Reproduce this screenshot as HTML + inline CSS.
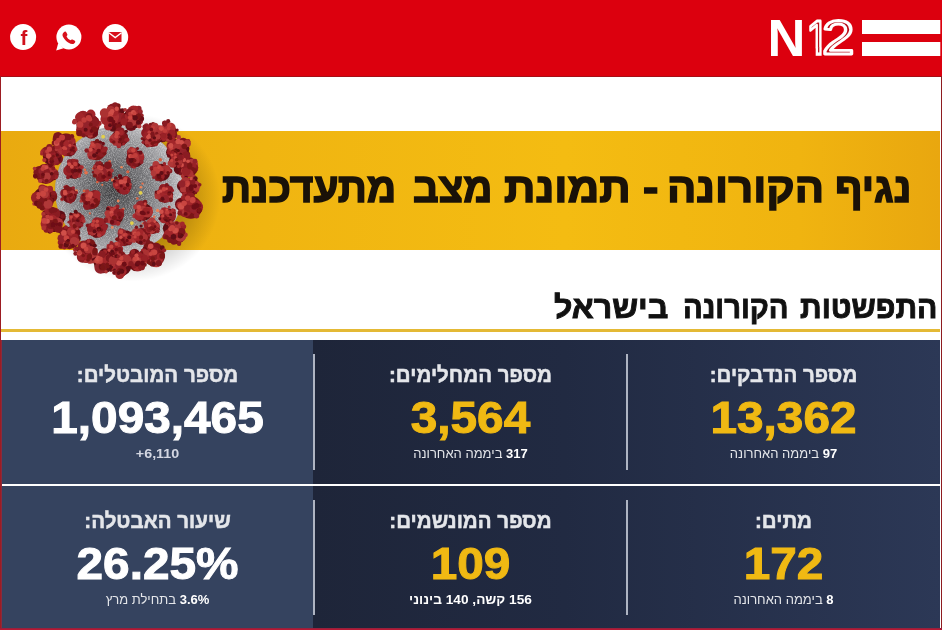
<!DOCTYPE html>
<html lang="he">
<head>
<meta charset="utf-8">
<title>נגיף הקורונה - תמונת מצב מתעדכנת</title>
<style>
html,body{margin:0;padding:0;}
body{width:942px;height:630px;overflow:hidden;background:#fff;position:relative;font-family:"Liberation Sans","DejaVu Sans",sans-serif;}
#frame{position:absolute;left:0;top:0;width:942px;height:630px;overflow:hidden;}
.abs{position:absolute;}
#hdr{left:0;top:0;width:942px;height:76px;background:#dc000e;border-bottom:1px solid #a60d16;}
#lb{left:0;top:76px;width:1px;height:554px;background:#9c1c22;}
#lb2{left:1px;top:340px;width:1px;height:290px;background:#8a2a3c;}
#rb{left:941px;top:76px;width:1px;height:554px;background:#8e1c20;}
#bb{left:0;top:628px;width:942px;height:2px;background:linear-gradient(180deg,#8a2440,#c41430);}
#band{left:1px;top:131px;width:939px;height:119px;background:linear-gradient(90deg,#e9aa10 0%,#f0b511 28%,#f4bc12 60%,#f0b410 85%,#e9a70f 100%);}
#title{left:0;top:160px;width:942px;height:56px;direction:rtl;font-weight:bold;font-size:42px;line-height:56px;color:#1a1208;-webkit-text-stroke:1.5px #1a1208;white-space:nowrap;}
#title span{position:absolute;top:0;display:block;white-space:nowrap;transform-origin:left center;}
/*TW*/
#w1{left:835.40px;transform:scaleX(0.9735);}
#w2{left:667.29px;transform:scaleX(1.0347);}
#w3{left:642.79px;transform:scaleX(1.0978);}
#w4{left:504.40px;transform:scaleX(1.0426);}
#w5{left:413.41px;transform:scaleX(0.9564);}
#w6{left:222.40px;transform:scaleX(0.9656);}
/*TWEND*/
#h2{left:0;top:289px;width:942px;height:38px;white-space:nowrap;direction:rtl;font-weight:bold;font-size:31px;line-height:38px;color:#111;-webkit-text-stroke:0.9px #111;}
#h2 span{position:absolute;top:0;display:block;white-space:nowrap;transform-origin:left center;}
/*HW*/
#v1{left:800.02px;transform:scaleX(0.9725);}
#v2{left:683.12px;transform:scaleX(0.9419);}
#v3{left:553.96px;transform:scaleX(1.0367);}
/*HWEND*/
#yl{left:1px;top:329px;width:939px;height:3px;background:#e4b935;}
.card{position:absolute;color:#fff;text-align:center;direction:rtl;}
#darkbg{background:linear-gradient(90deg,#1e2539 0%,#212a42 40%,#2c3856 100%);}
#lightbg{background:#35435f;}
.sep{position:absolute;width:2px;background:#aeb4c2;}
.lbl{position:absolute;left:0;right:0;top:21px;transform:scaleX(0.955);font-weight:bold;font-size:21.5px;line-height:28px;color:#e4e6ea;-webkit-text-stroke:0.5px #e4e6ea;white-space:nowrap;}
.num{position:absolute;left:0;right:0;top:53px;transform:scaleX(1.085);font-weight:bold;font-size:44px;line-height:50px;color:#f0b913;-webkit-text-stroke:1px #f0b913;white-space:nowrap;direction:ltr;}
.num.w{color:#fff;-webkit-text-stroke-color:#fff;}
.sub{position:absolute;left:0;right:0;top:105px;font-size:13px;line-height:18px;color:#e4e6ea;white-space:nowrap;}
.sub b{color:#fff;}
.sub b.dim{color:#d4d7e2;}
</style>
</head>
<body>
<div id="frame">
  <div id="hdr" class="abs"></div>
  <svg class="abs" id="hsvg" style="left:0;top:0;" width="942" height="76" viewBox="0 0 942 76">
    <!-- social icons -->
    <circle cx="23.1" cy="37.1" r="13" fill="#fff"/>
    <text x="23.8" y="44.6" text-anchor="middle" font-family="'Liberation Sans','DejaVu Sans',sans-serif" font-weight="bold" font-size="20.5" fill="#d0101c">f</text>
    <circle cx="68.9" cy="37" r="12.5" fill="#fff"/>
    <path d="M58.2 43.2 L56.2 50.4 L63.6 48.2 Z" fill="#fff"/>
    <path d="M63.6 32.4 c1.2-1.2 2.2-1.2 2.8 0 l0.9 1.9 c0.3 0.8 0 1.3-0.8 2 c0.8 1.8 2.2 3.2 4 4 c0.7-0.8 1.2-1.1 2-0.8 l1.9 0.9 c1.2 0.6 1.2 1.6 0 2.8 c-1.4 1.3-3.4 1-5.8-0.4 c-2.200-1.300-3.900-3-5.200-5.200 c-1.400-2.400-1.100-3.800 0.200-5.200 z" fill="#d8101c"/>
    <circle cx="115.2" cy="37.1" r="13" fill="#fff"/>
    <rect x="108.9" y="32" width="12.6" height="10" fill="#d8101c"/>
    <path d="M108.9 32.8 L115.2 37.6 L121.5 32.8" fill="none" stroke="#fff" stroke-width="1.4"/>
    <!-- logo -->
    <defs>
      <clipPath id="c1"><rect x="0" y="-45" width="40" height="38.77"/></clipPath>
    </defs>
    <text x="767.6" y="55.8" font-family="'Liberation Sans','DejaVu Sans',sans-serif" font-weight="bold" font-size="52.5" fill="#fff">N</text>
    <g transform="translate(806.6 54.4) scale(0.84 1)">
      <text clip-path="url(#c1)" x="0" y="0" font-family="'Liberation Sans','DejaVu Sans',sans-serif" font-size="48.6" fill="#b80d18" stroke="#fff" stroke-width="2.8" stroke-linejoin="round">1</text>
      <rect x="10.82" y="-6.63" width="7.10" height="8.03" fill="#fff"/>
      <rect x="13.62" y="-7.03" width="1.50" height="5.03" fill="#b80d18"/>
    </g>
    <g transform="translate(822.0 54.4) scale(1.2 1)">
      <text x="0" y="0" font-family="'Liberation Sans','DejaVu Sans',sans-serif" font-size="48.6" fill="#b80d18" stroke="#fff" stroke-width="2.8" stroke-linejoin="round">2</text>
    </g>
    <rect x="862" y="20" width="78.3" height="14" fill="#fff"/>
    <rect x="862" y="42" width="78.3" height="14" fill="#fff"/>
  </svg>
  <div id="band" class="abs"></div>
  <div id="title" class="abs"><span id="w1">נגיף</span> <span id="w2">הקורונה</span> <span id="w3">-</span> <span id="w4">תמונת</span> <span id="w5">מצב</span> <span id="w6">מתעדכנת</span></div>
<!--VIRUS-START-->
<svg class="abs" id="virus" style="left:0px;top:90px;" width="240" height="200" viewBox="0 0 240 200">
<defs>
<radialGradient id="vsh" cx="50%" cy="50%" r="50%"><stop offset="0" stop-color="#000" stop-opacity="0.45"/><stop offset="0.62" stop-color="#000" stop-opacity="0.22"/><stop offset="1" stop-color="#000" stop-opacity="0"/></radialGradient>
<radialGradient id="vbody" cx="46%" cy="50%" r="56%"><stop offset="0" stop-color="#3e3e40"/><stop offset="0.4" stop-color="#6a6a6d"/><stop offset="0.78" stop-color="#9c9c9f"/><stop offset="1" stop-color="#c6c6c9"/></radialGradient>
<filter id="vnoise" x="0" y="0" width="100%" height="100%"><feTurbulence type="fractalNoise" baseFrequency="0.9" numOctaves="2" seed="3" result="n"/><feColorMatrix in="n" type="matrix" values="0 0 0 0 1  0 0 0 0 1  0 0 0 0 1  1.6 0 0 0 -0.62"/><feComposite in2="SourceGraphic" operator="in"/></filter>
<filter id="vblur" x="-20%" y="-20%" width="140%" height="140%"><feGaussianBlur stdDeviation="0.5"/></filter>
</defs>
<g transform="translate(119.0 100.0) scale(0.955) translate(-118.0 -100.0)">
<ellipse cx="132" cy="108" rx="92" ry="88" fill="url(#vsh)"/>
<circle cx="118" cy="100" r="67" fill="url(#vbody)"/>
<circle cx="118" cy="100" r="66" fill="#fff" opacity="0.55" filter="url(#vnoise)"/>
<g filter="url(#vblur)">
<circle cx="106.6" cy="122.8" r="1.6" fill="#e8704a"/>
<circle cx="127.2" cy="80.9" r="1.6" fill="#d9603f"/>
<circle cx="122.5" cy="120.0" r="1.4" fill="#e8704a"/>
<circle cx="151.9" cy="121.7" r="1.8" fill="#e8704a"/>
<circle cx="163.8" cy="84.3" r="1.6" fill="#e8704a"/>
<circle cx="83.5" cy="81.9" r="1.9" fill="#e8704a"/>
<circle cx="95.3" cy="91.6" r="1.4" fill="#d9603f"/>
<circle cx="143.6" cy="123.4" r="1.8" fill="#e8704a"/>
<circle cx="154.9" cy="127.9" r="1.3" fill="#e8704a"/>
<circle cx="100.5" cy="94.6" r="1.1" fill="#e8704a"/>
<circle cx="73.3" cy="101.0" r="1.7" fill="#ee8457"/>
<circle cx="82.4" cy="78.8" r="1.3" fill="#e8704a"/>
<circle cx="108.1" cy="70.3" r="1.6" fill="#d9603f"/>
<circle cx="81.5" cy="101.1" r="1.5" fill="#d9603f"/>
<circle cx="140.9" cy="97.1" r="1.4" fill="#ee8457"/>
<circle cx="142.8" cy="135.1" r="1.1" fill="#d9603f"/>
<circle cx="158.4" cy="121.4" r="1.7" fill="#ee8457"/>
<circle cx="98.3" cy="131.1" r="1.5" fill="#ee8457"/>
<circle cx="137.2" cy="108.8" r="1.3" fill="#d9603f"/>
<circle cx="108.7" cy="84.4" r="1.7" fill="#d9603f"/>
<circle cx="73.7" cy="76.4" r="1.5" fill="#d9603f"/>
<circle cx="80.5" cy="132.7" r="1.1" fill="#ee8457"/>
<circle cx="88.7" cy="137.6" r="1.5" fill="#e8704a"/>
<circle cx="120.7" cy="76.2" r="1.3" fill="#ee8457"/>
<circle cx="155.5" cy="78.4" r="1.2" fill="#ee8457"/>
<circle cx="63.8" cy="82.6" r="1.8" fill="#d9603f"/>
<circle cx="110.9" cy="139.2" r="1.4" fill="#ee8457"/>
<circle cx="142.6" cy="93.3" r="1.2" fill="#e8704a"/>
<circle cx="111.2" cy="89.5" r="1.8" fill="#e8704a"/>
<circle cx="117.1" cy="111.4" r="1.4" fill="#ee8457"/>
<circle cx="90.8" cy="77.6" r="1.2" fill="#d9603f"/>
<circle cx="164.9" cy="84.8" r="1.7" fill="#ee8457"/>
<circle cx="161.3" cy="68.4" r="1.8" fill="#d9603f"/>
<circle cx="87.5" cy="124.5" r="1.2" fill="#d9603f"/>
<circle cx="101.4" cy="44.2" r="2" fill="#e3d04a"/>
<circle cx="131.5" cy="134.6" r="2" fill="#e3d04a"/>
<circle cx="140.6" cy="103.0" r="2" fill="#e3d04a"/>
<circle cx="89.0" cy="39.3" r="7.1" fill="#7a1419"/>
<circle cx="85.6" cy="31.8" r="12.2" fill="#6e1015"/>
<circle cx="80.3" cy="24.1" r="7.0" fill="#982026"/>
<circle cx="91.3" cy="30.6" r="6.4" fill="#a2272c"/>
<circle cx="80.2" cy="37.1" r="7.2" fill="#982026"/>
<circle cx="84.8" cy="30.6" r="6.4" fill="#93222a"/>
<circle cx="87.9" cy="42.3" r="2.9" fill="#b03838"/>
<circle cx="74.9" cy="23.2" r="2.2" fill="#6e1015"/>
<circle cx="97.1" cy="30.1" r="2.7" fill="#a2272c"/>
<circle cx="92.9" cy="41.0" r="3.0" fill="#6e1015"/>
<circle cx="90.2" cy="20.6" r="2.1" fill="#7a1419"/>
<circle cx="76.4" cy="40.5" r="3.2" fill="#7a1419"/>
<circle cx="81.0" cy="42.9" r="2.2" fill="#7e171c"/>
<circle cx="71.3" cy="29.0" r="2.5" fill="#ab3033"/>
<circle cx="71.8" cy="27.9" r="2.5" fill="#ab3033"/>
<circle cx="76.9" cy="23.8" r="4.9" fill="#a2272c"/>
<circle cx="88.5" cy="20.6" r="4.8" fill="#a2272c"/>
<circle cx="87.3" cy="38.2" r="4.8" fill="#982026"/>
<circle cx="86.7" cy="23.0" r="3.6" fill="#7e171c"/>
<circle cx="92.1" cy="28.6" r="5.3" fill="#8a1b21"/>
<circle cx="87.5" cy="25.9" r="2.4" fill="#c9453f"/>
<circle cx="81.4" cy="26.7" r="2.8" fill="#c03d3a"/>
<circle cx="86.2" cy="24.5" r="3.1" fill="#c03d3a"/>
<circle cx="77.2" cy="31.4" r="3.5" fill="#c03d3a"/>
<circle cx="83.1" cy="37.0" r="2.1" fill="#5f0d12"/>
<circle cx="91.9" cy="36.6" r="3.3" fill="#7a1419"/>
<circle cx="89.1" cy="38.3" r="1.9" fill="#6e1015"/>
<circle cx="88.3" cy="31.6" r="2.0" fill="#7a1419"/>
<circle cx="112.7" cy="32.3" r="6.8" fill="#5f0d12"/>
<circle cx="112.7" cy="24.3" r="11.7" fill="#6e1015"/>
<circle cx="111.8" cy="16.0" r="6.7" fill="#8a1b21"/>
<circle cx="118.6" cy="25.0" r="6.2" fill="#93222a"/>
<circle cx="105.3" cy="25.6" r="6.8" fill="#a2272c"/>
<circle cx="111.9" cy="23.1" r="6.2" fill="#ab3033"/>
<circle cx="122.9" cy="22.2" r="3.0" fill="#982026"/>
<circle cx="111.8" cy="34.4" r="2.3" fill="#5f0d12"/>
<circle cx="106.4" cy="33.8" r="3.0" fill="#982026"/>
<circle cx="121.6" cy="16.9" r="2.5" fill="#5f0d12"/>
<circle cx="116.7" cy="12.1" r="3.0" fill="#7a1419"/>
<circle cx="119.3" cy="31.1" r="2.6" fill="#6e1015"/>
<circle cx="113.9" cy="11.1" r="2.9" fill="#8a1b21"/>
<circle cx="117.5" cy="33.5" r="2.9" fill="#7a1419"/>
<circle cx="123.4" cy="27.8" r="2.6" fill="#6e1015"/>
<circle cx="112.9" cy="18.6" r="4.3" fill="#a2272c"/>
<circle cx="113.4" cy="26.8" r="3.3" fill="#ab3033"/>
<circle cx="102.9" cy="19.4" r="5.0" fill="#ab3033"/>
<circle cx="106.7" cy="33.3" r="4.3" fill="#a2272c"/>
<circle cx="109.3" cy="16.2" r="4.2" fill="#ab3033"/>
<circle cx="109.5" cy="19.6" r="2.7" fill="#d05048"/>
<circle cx="115.7" cy="14.9" r="2.3" fill="#d05048"/>
<circle cx="108.6" cy="23.0" r="2.6" fill="#c9453f"/>
<circle cx="110.8" cy="17.6" r="2.3" fill="#d05048"/>
<circle cx="108.6" cy="32.1" r="2.0" fill="#5f0d12"/>
<circle cx="112.1" cy="28.5" r="2.1" fill="#6e1015"/>
<circle cx="108.7" cy="25.9" r="3.1" fill="#7a1419"/>
<circle cx="109.7" cy="26.1" r="2.7" fill="#6e1015"/>
<circle cx="130.6" cy="31.9" r="6.2" fill="#6e1015"/>
<circle cx="132.9" cy="24.9" r="10.6" fill="#5f0d12"/>
<circle cx="133.0" cy="17.5" r="6.0" fill="#a2272c"/>
<circle cx="136.7" cy="27.1" r="6.0" fill="#8a1b21"/>
<circle cx="126.2" cy="25.6" r="5.6" fill="#8a1b21"/>
<circle cx="132.1" cy="23.7" r="5.6" fill="#7e171c"/>
<circle cx="124.4" cy="16.1" r="1.9" fill="#ab3033"/>
<circle cx="141.8" cy="22.0" r="2.1" fill="#982026"/>
<circle cx="140.4" cy="18.1" r="2.6" fill="#93222a"/>
<circle cx="138.7" cy="14.6" r="2.9" fill="#93222a"/>
<circle cx="139.1" cy="33.3" r="2.4" fill="#b03838"/>
<circle cx="140.3" cy="28.8" r="2.6" fill="#93222a"/>
<circle cx="140.2" cy="17.4" r="1.8" fill="#a2272c"/>
<circle cx="135.2" cy="14.5" r="2.8" fill="#a2272c"/>
<circle cx="131.2" cy="33.5" r="1.8" fill="#7a1419"/>
<circle cx="123.4" cy="28.6" r="4.0" fill="#982026"/>
<circle cx="127.1" cy="22.8" r="3.0" fill="#a2272c"/>
<circle cx="131.8" cy="28.4" r="4.6" fill="#b03838"/>
<circle cx="129.1" cy="32.0" r="3.4" fill="#7e171c"/>
<circle cx="129.6" cy="19.0" r="4.3" fill="#8a1b21"/>
<circle cx="129.8" cy="24.2" r="2.5" fill="#c9453f"/>
<circle cx="129.9" cy="20.5" r="2.4" fill="#c03d3a"/>
<circle cx="133.0" cy="18.6" r="2.5" fill="#d05048"/>
<circle cx="134.4" cy="20.0" r="2.1" fill="#c9453f"/>
<circle cx="138.3" cy="29.2" r="2.5" fill="#5f0d12"/>
<circle cx="141.4" cy="25.4" r="2.9" fill="#6e1015"/>
<circle cx="138.8" cy="22.6" r="2.8" fill="#7a1419"/>
<circle cx="134.9" cy="24.4" r="2.7" fill="#5f0d12"/>
<circle cx="148.5" cy="48.6" r="5.9" fill="#5f0d12"/>
<circle cx="153.4" cy="43.0" r="10.1" fill="#7a1419"/>
<circle cx="156.0" cy="36.6" r="5.4" fill="#a2272c"/>
<circle cx="156.3" cy="46.3" r="5.6" fill="#8a1b21"/>
<circle cx="146.8" cy="40.3" r="5.6" fill="#8a1b21"/>
<circle cx="152.6" cy="41.8" r="5.3" fill="#a2272c"/>
<circle cx="147.0" cy="48.9" r="2.1" fill="#6e1015"/>
<circle cx="150.7" cy="52.2" r="2.0" fill="#982026"/>
<circle cx="161.9" cy="47.7" r="1.9" fill="#5f0d12"/>
<circle cx="161.4" cy="44.1" r="2.0" fill="#ab3033"/>
<circle cx="162.4" cy="47.5" r="2.6" fill="#8a1b21"/>
<circle cx="146.7" cy="32.7" r="2.6" fill="#93222a"/>
<circle cx="153.6" cy="31.0" r="2.2" fill="#7e171c"/>
<circle cx="150.9" cy="31.3" r="1.7" fill="#7a1419"/>
<circle cx="145.1" cy="34.0" r="2.6" fill="#8a1b21"/>
<circle cx="159.7" cy="37.3" r="3.7" fill="#93222a"/>
<circle cx="155.6" cy="33.4" r="3.7" fill="#b03838"/>
<circle cx="149.3" cy="34.5" r="3.1" fill="#982026"/>
<circle cx="159.9" cy="43.7" r="4.4" fill="#ab3033"/>
<circle cx="156.2" cy="35.7" r="3.8" fill="#b03838"/>
<circle cx="150.7" cy="38.6" r="2.0" fill="#d05048"/>
<circle cx="153.4" cy="34.9" r="2.3" fill="#c03d3a"/>
<circle cx="147.1" cy="42.2" r="2.7" fill="#d05048"/>
<circle cx="150.1" cy="41.0" r="2.0" fill="#c03d3a"/>
<circle cx="151.6" cy="45.3" r="2.3" fill="#7a1419"/>
<circle cx="154.6" cy="46.1" r="2.1" fill="#5f0d12"/>
<circle cx="154.7" cy="43.1" r="2.3" fill="#6e1015"/>
<circle cx="155.8" cy="41.8" r="1.8" fill="#5f0d12"/>
<circle cx="163.5" cy="44.6" r="5.5" fill="#5f0d12"/>
<circle cx="169.1" cy="40.0" r="9.6" fill="#7a1419"/>
<circle cx="171.8" cy="34.9" r="5.5" fill="#ab3033"/>
<circle cx="171.0" cy="44.0" r="5.7" fill="#b03838"/>
<circle cx="162.5" cy="37.8" r="5.3" fill="#ab3033"/>
<circle cx="168.3" cy="38.8" r="5.0" fill="#ab3033"/>
<circle cx="169.5" cy="27.9" r="2.2" fill="#7e171c"/>
<circle cx="178.9" cy="37.3" r="1.6" fill="#6e1015"/>
<circle cx="176.9" cy="43.3" r="2.6" fill="#7e171c"/>
<circle cx="160.2" cy="45.7" r="2.6" fill="#a2272c"/>
<circle cx="160.5" cy="34.4" r="2.1" fill="#b03838"/>
<circle cx="175.3" cy="46.5" r="2.1" fill="#a2272c"/>
<circle cx="165.7" cy="30.0" r="2.5" fill="#6e1015"/>
<circle cx="161.3" cy="44.3" r="2.6" fill="#6e1015"/>
<circle cx="159.8" cy="44.5" r="2.0" fill="#93222a"/>
<circle cx="164.8" cy="46.6" r="2.5" fill="#93222a"/>
<circle cx="165.3" cy="43.5" r="4.1" fill="#a2272c"/>
<circle cx="166.2" cy="30.1" r="3.0" fill="#8a1b21"/>
<circle cx="173.4" cy="41.0" r="4.0" fill="#982026"/>
<circle cx="164.5" cy="43.2" r="3.0" fill="#982026"/>
<circle cx="166.1" cy="37.9" r="2.4" fill="#c03d3a"/>
<circle cx="169.9" cy="35.6" r="1.9" fill="#c03d3a"/>
<circle cx="162.3" cy="35.7" r="2.6" fill="#d05048"/>
<circle cx="170.6" cy="32.2" r="2.4" fill="#c03d3a"/>
<circle cx="170.1" cy="45.2" r="1.5" fill="#5f0d12"/>
<circle cx="172.0" cy="43.5" r="1.6" fill="#7a1419"/>
<circle cx="171.8" cy="45.9" r="2.1" fill="#6e1015"/>
<circle cx="170.3" cy="42.5" r="1.8" fill="#5f0d12"/>
<circle cx="173.5" cy="60.5" r="6.2" fill="#5f0d12"/>
<circle cx="181.1" cy="56.8" r="10.6" fill="#5f0d12"/>
<circle cx="185.1" cy="51.3" r="5.9" fill="#7e171c"/>
<circle cx="180.4" cy="61.4" r="6.3" fill="#982026"/>
<circle cx="173.8" cy="53.7" r="6.2" fill="#a2272c"/>
<circle cx="180.3" cy="55.6" r="5.6" fill="#ab3033"/>
<circle cx="190.4" cy="48.9" r="2.3" fill="#8a1b21"/>
<circle cx="170.6" cy="52.6" r="2.0" fill="#7a1419"/>
<circle cx="188.9" cy="61.1" r="2.1" fill="#5f0d12"/>
<circle cx="183.2" cy="64.8" r="2.8" fill="#93222a"/>
<circle cx="171.0" cy="61.2" r="2.2" fill="#b03838"/>
<circle cx="180.5" cy="44.8" r="2.4" fill="#b03838"/>
<circle cx="187.9" cy="63.3" r="2.5" fill="#ab3033"/>
<circle cx="190.2" cy="62.1" r="2.2" fill="#6e1015"/>
<circle cx="170.9" cy="59.9" r="2.7" fill="#982026"/>
<circle cx="184.8" cy="60.3" r="4.3" fill="#93222a"/>
<circle cx="172.8" cy="56.9" r="2.8" fill="#ab3033"/>
<circle cx="189.5" cy="51.3" r="3.8" fill="#ab3033"/>
<circle cx="185.4" cy="54.7" r="3.0" fill="#a2272c"/>
<circle cx="186.4" cy="64.2" r="3.0" fill="#93222a"/>
<circle cx="179.9" cy="49.1" r="2.8" fill="#d05048"/>
<circle cx="172.9" cy="56.4" r="1.8" fill="#c9453f"/>
<circle cx="172.2" cy="53.4" r="2.7" fill="#d05048"/>
<circle cx="183.6" cy="50.1" r="2.5" fill="#d05048"/>
<circle cx="180.0" cy="58.7" r="1.7" fill="#5f0d12"/>
<circle cx="177.8" cy="58.2" r="1.9" fill="#5f0d12"/>
<circle cx="186.4" cy="54.4" r="2.9" fill="#7a1419"/>
<circle cx="175.2" cy="60.3" r="2.8" fill="#7a1419"/>
<circle cx="181.5" cy="77.7" r="6.2" fill="#5f0d12"/>
<circle cx="190.2" cy="76.1" r="10.6" fill="#6e1015"/>
<circle cx="194.7" cy="73.2" r="6.1" fill="#b03838"/>
<circle cx="188.9" cy="80.5" r="6.2" fill="#b03838"/>
<circle cx="185.3" cy="70.9" r="5.9" fill="#ab3033"/>
<circle cx="189.4" cy="74.9" r="5.6" fill="#8a1b21"/>
<circle cx="190.8" cy="84.4" r="2.2" fill="#93222a"/>
<circle cx="182.5" cy="82.9" r="1.8" fill="#7e171c"/>
<circle cx="188.6" cy="64.1" r="2.0" fill="#ab3033"/>
<circle cx="185.0" cy="85.7" r="2.1" fill="#ab3033"/>
<circle cx="188.3" cy="86.7" r="1.9" fill="#5f0d12"/>
<circle cx="179.4" cy="75.2" r="2.0" fill="#93222a"/>
<circle cx="197.6" cy="69.8" r="2.5" fill="#93222a"/>
<circle cx="198.4" cy="78.1" r="2.5" fill="#93222a"/>
<circle cx="198.5" cy="78.0" r="2.2" fill="#b03838"/>
<circle cx="188.2" cy="64.4" r="4.6" fill="#8a1b21"/>
<circle cx="192.3" cy="82.5" r="3.8" fill="#ab3033"/>
<circle cx="197.4" cy="76.6" r="3.5" fill="#8a1b21"/>
<circle cx="195.9" cy="74.3" r="3.0" fill="#982026"/>
<circle cx="188.3" cy="80.7" r="4.6" fill="#982026"/>
<circle cx="186.0" cy="68.4" r="2.3" fill="#d05048"/>
<circle cx="190.3" cy="69.9" r="1.9" fill="#d05048"/>
<circle cx="183.6" cy="73.9" r="2.4" fill="#d05048"/>
<circle cx="182.6" cy="70.2" r="1.8" fill="#d05048"/>
<circle cx="195.4" cy="78.0" r="2.1" fill="#7a1419"/>
<circle cx="192.1" cy="74.6" r="2.8" fill="#7a1419"/>
<circle cx="191.9" cy="75.8" r="2.4" fill="#7a1419"/>
<circle cx="197.3" cy="79.6" r="2.4" fill="#7a1419"/>
<circle cx="184.2" cy="95.9" r="5.5" fill="#5f0d12"/>
<circle cx="192.6" cy="96.6" r="9.6" fill="#5f0d12"/>
<circle cx="197.9" cy="95.6" r="5.3" fill="#b03838"/>
<circle cx="188.4" cy="100.5" r="5.7" fill="#982026"/>
<circle cx="187.9" cy="91.8" r="5.5" fill="#ab3033"/>
<circle cx="191.8" cy="95.4" r="5.0" fill="#93222a"/>
<circle cx="184.9" cy="101.4" r="2.0" fill="#6e1015"/>
<circle cx="198.3" cy="102.6" r="1.6" fill="#7e171c"/>
<circle cx="196.4" cy="86.1" r="2.2" fill="#b03838"/>
<circle cx="198.0" cy="88.0" r="2.4" fill="#5f0d12"/>
<circle cx="199.7" cy="99.7" r="2.4" fill="#ab3033"/>
<circle cx="183.4" cy="100.9" r="2.1" fill="#7a1419"/>
<circle cx="186.8" cy="105.1" r="2.5" fill="#a2272c"/>
<circle cx="191.0" cy="104.1" r="1.7" fill="#6e1015"/>
<circle cx="202.6" cy="94.6" r="1.8" fill="#8a1b21"/>
<circle cx="185.6" cy="99.0" r="3.7" fill="#b03838"/>
<circle cx="183.9" cy="93.5" r="3.8" fill="#93222a"/>
<circle cx="194.5" cy="91.3" r="3.5" fill="#8a1b21"/>
<circle cx="191.7" cy="100.1" r="3.3" fill="#a2272c"/>
<circle cx="191.9" cy="99.4" r="4.0" fill="#7e171c"/>
<circle cx="189.4" cy="95.0" r="1.9" fill="#c9453f"/>
<circle cx="189.8" cy="92.6" r="2.6" fill="#c03d3a"/>
<circle cx="190.3" cy="93.7" r="1.6" fill="#c9453f"/>
<circle cx="193.5" cy="88.1" r="1.7" fill="#d05048"/>
<circle cx="193.9" cy="96.4" r="2.1" fill="#5f0d12"/>
<circle cx="194.2" cy="96.2" r="2.0" fill="#6e1015"/>
<circle cx="193.7" cy="98.6" r="2.4" fill="#6e1015"/>
<circle cx="197.7" cy="95.9" r="2.2" fill="#6e1015"/>
<circle cx="183.4" cy="115.0" r="6.8" fill="#6e1015"/>
<circle cx="193.2" cy="118.3" r="11.7" fill="#7a1419"/>
<circle cx="198.6" cy="118.0" r="7.4" fill="#982026"/>
<circle cx="187.3" cy="122.1" r="6.4" fill="#982026"/>
<circle cx="191.5" cy="110.4" r="6.6" fill="#7e171c"/>
<circle cx="192.4" cy="117.1" r="6.2" fill="#8a1b21"/>
<circle cx="201.7" cy="122.1" r="2.6" fill="#6e1015"/>
<circle cx="202.3" cy="121.3" r="2.5" fill="#7a1419"/>
<circle cx="199.2" cy="127.0" r="2.8" fill="#93222a"/>
<circle cx="188.5" cy="106.2" r="2.3" fill="#7e171c"/>
<circle cx="183.2" cy="122.4" r="2.9" fill="#b03838"/>
<circle cx="183.4" cy="122.5" r="2.9" fill="#b03838"/>
<circle cx="185.3" cy="108.0" r="2.5" fill="#982026"/>
<circle cx="182.4" cy="121.5" r="2.1" fill="#a2272c"/>
<circle cx="181.6" cy="124.3" r="2.5" fill="#8a1b21"/>
<circle cx="195.2" cy="120.1" r="3.4" fill="#93222a"/>
<circle cx="196.1" cy="114.7" r="4.4" fill="#8a1b21"/>
<circle cx="192.0" cy="112.1" r="3.8" fill="#a2272c"/>
<circle cx="181.4" cy="115.6" r="3.3" fill="#ab3033"/>
<circle cx="192.6" cy="107.1" r="4.8" fill="#8a1b21"/>
<circle cx="183.0" cy="117.1" r="3.4" fill="#d05048"/>
<circle cx="186.2" cy="113.9" r="2.9" fill="#c9453f"/>
<circle cx="195.1" cy="110.6" r="3.2" fill="#c9453f"/>
<circle cx="190.0" cy="108.7" r="2.9" fill="#c03d3a"/>
<circle cx="187.8" cy="125.0" r="2.0" fill="#6e1015"/>
<circle cx="202.3" cy="116.3" r="2.0" fill="#7a1419"/>
<circle cx="196.8" cy="117.7" r="2.8" fill="#6e1015"/>
<circle cx="199.3" cy="116.5" r="2.8" fill="#6e1015"/>
<circle cx="170.1" cy="140.0" r="6.2" fill="#5f0d12"/>
<circle cx="177.5" cy="146.3" r="10.6" fill="#7a1419"/>
<circle cx="182.4" cy="148.0" r="6.2" fill="#b03838"/>
<circle cx="170.5" cy="146.8" r="5.9" fill="#a2272c"/>
<circle cx="177.3" cy="138.7" r="6.1" fill="#ab3033"/>
<circle cx="176.7" cy="145.1" r="5.6" fill="#a2272c"/>
<circle cx="187.7" cy="146.8" r="2.3" fill="#ab3033"/>
<circle cx="166.2" cy="148.8" r="2.7" fill="#8a1b21"/>
<circle cx="180.6" cy="135.3" r="1.9" fill="#b03838"/>
<circle cx="167.9" cy="149.3" r="2.3" fill="#7a1419"/>
<circle cx="171.4" cy="137.1" r="1.9" fill="#b03838"/>
<circle cx="178.6" cy="134.5" r="1.9" fill="#7a1419"/>
<circle cx="185.6" cy="138.3" r="2.7" fill="#982026"/>
<circle cx="184.3" cy="135.7" r="2.6" fill="#a2272c"/>
<circle cx="180.9" cy="156.4" r="2.3" fill="#8a1b21"/>
<circle cx="173.4" cy="137.2" r="3.2" fill="#93222a"/>
<circle cx="171.5" cy="152.3" r="3.1" fill="#7e171c"/>
<circle cx="175.3" cy="154.3" r="3.1" fill="#7e171c"/>
<circle cx="183.4" cy="143.6" r="3.9" fill="#7e171c"/>
<circle cx="171.0" cy="144.9" r="2.9" fill="#a2272c"/>
<circle cx="171.7" cy="140.9" r="2.2" fill="#d05048"/>
<circle cx="177.9" cy="142.0" r="2.8" fill="#c9453f"/>
<circle cx="176.8" cy="142.6" r="2.9" fill="#d05048"/>
<circle cx="173.8" cy="139.7" r="3.0" fill="#c9453f"/>
<circle cx="182.2" cy="148.0" r="2.7" fill="#5f0d12"/>
<circle cx="175.1" cy="149.0" r="2.9" fill="#5f0d12"/>
<circle cx="181.3" cy="146.1" r="1.7" fill="#6e1015"/>
<circle cx="184.1" cy="147.3" r="1.6" fill="#5f0d12"/>
<circle cx="150.0" cy="160.0" r="6.5" fill="#7a1419"/>
<circle cx="154.9" cy="168.9" r="11.2" fill="#7a1419"/>
<circle cx="157.1" cy="174.4" r="6.6" fill="#b03838"/>
<circle cx="147.4" cy="166.2" r="6.8" fill="#a2272c"/>
<circle cx="156.6" cy="161.5" r="6.4" fill="#7e171c"/>
<circle cx="154.1" cy="167.7" r="5.9" fill="#8a1b21"/>
<circle cx="162.3" cy="161.4" r="2.1" fill="#982026"/>
<circle cx="164.0" cy="169.1" r="2.3" fill="#a2272c"/>
<circle cx="142.8" cy="166.1" r="2.4" fill="#7e171c"/>
<circle cx="145.2" cy="162.1" r="2.6" fill="#6e1015"/>
<circle cx="159.6" cy="176.2" r="2.8" fill="#8a1b21"/>
<circle cx="144.4" cy="170.8" r="2.1" fill="#7e171c"/>
<circle cx="145.4" cy="173.9" r="1.9" fill="#7a1419"/>
<circle cx="163.2" cy="160.5" r="2.6" fill="#5f0d12"/>
<circle cx="165.2" cy="163.1" r="2.2" fill="#982026"/>
<circle cx="161.4" cy="169.8" r="3.8" fill="#a2272c"/>
<circle cx="159.8" cy="176.6" r="3.1" fill="#7e171c"/>
<circle cx="143.9" cy="164.4" r="3.2" fill="#a2272c"/>
<circle cx="145.7" cy="166.8" r="4.2" fill="#ab3033"/>
<circle cx="156.0" cy="163.3" r="3.6" fill="#8a1b21"/>
<circle cx="151.2" cy="158.8" r="2.9" fill="#d05048"/>
<circle cx="153.9" cy="165.4" r="3.1" fill="#c03d3a"/>
<circle cx="155.3" cy="165.1" r="2.8" fill="#c9453f"/>
<circle cx="151.1" cy="167.0" r="2.2" fill="#c9453f"/>
<circle cx="163.2" cy="169.0" r="3.0" fill="#7a1419"/>
<circle cx="153.4" cy="172.1" r="2.4" fill="#7a1419"/>
<circle cx="153.3" cy="177.1" r="3.0" fill="#7a1419"/>
<circle cx="154.4" cy="177.5" r="2.0" fill="#5f0d12"/>
<circle cx="134.3" cy="167.0" r="5.5" fill="#6e1015"/>
<circle cx="136.8" cy="175.6" r="9.6" fill="#6e1015"/>
<circle cx="137.9" cy="179.4" r="5.8" fill="#a2272c"/>
<circle cx="131.0" cy="172.2" r="5.9" fill="#8a1b21"/>
<circle cx="140.2" cy="170.8" r="5.9" fill="#b03838"/>
<circle cx="136.0" cy="174.4" r="5.0" fill="#b03838"/>
<circle cx="141.4" cy="166.1" r="2.1" fill="#7a1419"/>
<circle cx="132.6" cy="164.4" r="2.1" fill="#ab3033"/>
<circle cx="127.6" cy="170.4" r="1.8" fill="#5f0d12"/>
<circle cx="127.5" cy="169.3" r="1.8" fill="#982026"/>
<circle cx="144.7" cy="175.9" r="2.5" fill="#b03838"/>
<circle cx="146.1" cy="172.9" r="1.6" fill="#8a1b21"/>
<circle cx="132.5" cy="165.0" r="2.3" fill="#982026"/>
<circle cx="145.1" cy="178.4" r="2.0" fill="#7a1419"/>
<circle cx="142.8" cy="168.9" r="2.5" fill="#93222a"/>
<circle cx="139.5" cy="177.1" r="2.7" fill="#982026"/>
<circle cx="144.6" cy="171.6" r="3.8" fill="#982026"/>
<circle cx="139.3" cy="168.0" r="3.0" fill="#982026"/>
<circle cx="141.6" cy="180.5" r="3.6" fill="#8a1b21"/>
<circle cx="133.6" cy="179.6" r="2.6" fill="#8a1b21"/>
<circle cx="137.0" cy="172.3" r="2.5" fill="#d05048"/>
<circle cx="136.3" cy="168.7" r="2.2" fill="#d05048"/>
<circle cx="135.3" cy="172.3" r="2.1" fill="#d05048"/>
<circle cx="134.6" cy="172.2" r="2.2" fill="#c9453f"/>
<circle cx="137.1" cy="177.6" r="2.5" fill="#6e1015"/>
<circle cx="136.9" cy="178.2" r="1.9" fill="#5f0d12"/>
<circle cx="142.6" cy="176.8" r="2.6" fill="#6e1015"/>
<circle cx="138.0" cy="176.2" r="2.3" fill="#6e1015"/>
<circle cx="119.3" cy="169.9" r="6.2" fill="#7a1419"/>
<circle cx="120.3" cy="179.5" r="10.6" fill="#5f0d12"/>
<circle cx="120.1" cy="185.0" r="5.9" fill="#a2272c"/>
<circle cx="114.0" cy="176.0" r="6.4" fill="#ab3033"/>
<circle cx="124.7" cy="173.8" r="6.5" fill="#ab3033"/>
<circle cx="119.5" cy="178.3" r="5.6" fill="#93222a"/>
<circle cx="130.4" cy="177.7" r="1.9" fill="#b03838"/>
<circle cx="113.0" cy="186.6" r="2.2" fill="#a2272c"/>
<circle cx="109.6" cy="183.6" r="2.2" fill="#7e171c"/>
<circle cx="118.5" cy="190.1" r="2.4" fill="#93222a"/>
<circle cx="130.5" cy="177.1" r="2.8" fill="#8a1b21"/>
<circle cx="108.2" cy="176.0" r="2.6" fill="#982026"/>
<circle cx="113.4" cy="186.7" r="2.0" fill="#6e1015"/>
<circle cx="113.5" cy="168.6" r="2.0" fill="#6e1015"/>
<circle cx="115.7" cy="168.9" r="2.1" fill="#b03838"/>
<circle cx="109.9" cy="180.6" r="3.3" fill="#a2272c"/>
<circle cx="118.5" cy="187.1" r="4.4" fill="#7e171c"/>
<circle cx="122.0" cy="182.0" r="3.3" fill="#8a1b21"/>
<circle cx="114.7" cy="174.7" r="3.2" fill="#a2272c"/>
<circle cx="118.9" cy="188.6" r="4.7" fill="#a2272c"/>
<circle cx="120.9" cy="175.8" r="2.3" fill="#c9453f"/>
<circle cx="120.3" cy="171.2" r="2.4" fill="#c9453f"/>
<circle cx="111.1" cy="178.6" r="2.2" fill="#d05048"/>
<circle cx="117.9" cy="176.5" r="2.9" fill="#d05048"/>
<circle cx="118.8" cy="184.1" r="2.4" fill="#7a1419"/>
<circle cx="123.5" cy="177.7" r="2.6" fill="#6e1015"/>
<circle cx="117.4" cy="186.9" r="2.1" fill="#5f0d12"/>
<circle cx="120.7" cy="185.1" r="2.7" fill="#5f0d12"/>
<circle cx="103.2" cy="167.1" r="6.2" fill="#5f0d12"/>
<circle cx="102.2" cy="176.5" r="10.6" fill="#5f0d12"/>
<circle cx="98.7" cy="181.4" r="6.4" fill="#93222a"/>
<circle cx="96.6" cy="172.0" r="5.7" fill="#ab3033"/>
<circle cx="107.3" cy="172.8" r="5.7" fill="#ab3033"/>
<circle cx="101.4" cy="175.3" r="5.6" fill="#a2272c"/>
<circle cx="103.7" cy="164.2" r="2.5" fill="#7e171c"/>
<circle cx="107.7" cy="166.6" r="1.8" fill="#93222a"/>
<circle cx="90.2" cy="174.0" r="2.8" fill="#b03838"/>
<circle cx="103.2" cy="164.9" r="2.3" fill="#a2272c"/>
<circle cx="112.0" cy="177.9" r="2.0" fill="#ab3033"/>
<circle cx="91.7" cy="174.1" r="2.4" fill="#7a1419"/>
<circle cx="104.4" cy="185.6" r="1.8" fill="#b03838"/>
<circle cx="90.9" cy="173.8" r="2.9" fill="#ab3033"/>
<circle cx="111.3" cy="174.7" r="2.4" fill="#a2272c"/>
<circle cx="100.3" cy="167.5" r="4.0" fill="#8a1b21"/>
<circle cx="100.4" cy="181.5" r="2.8" fill="#ab3033"/>
<circle cx="108.2" cy="171.3" r="4.1" fill="#7e171c"/>
<circle cx="100.9" cy="180.3" r="4.2" fill="#7e171c"/>
<circle cx="111.8" cy="173.4" r="4.6" fill="#ab3033"/>
<circle cx="98.3" cy="174.6" r="2.8" fill="#c03d3a"/>
<circle cx="94.9" cy="174.2" r="2.8" fill="#c9453f"/>
<circle cx="95.9" cy="171.7" r="2.9" fill="#d05048"/>
<circle cx="98.6" cy="172.1" r="2.5" fill="#c9453f"/>
<circle cx="99.5" cy="180.6" r="2.6" fill="#6e1015"/>
<circle cx="105.7" cy="177.8" r="1.9" fill="#7a1419"/>
<circle cx="101.0" cy="181.0" r="2.7" fill="#7a1419"/>
<circle cx="106.4" cy="180.2" r="2.0" fill="#7a1419"/>
<circle cx="87.3" cy="157.3" r="6.2" fill="#7a1419"/>
<circle cx="84.1" cy="165.9" r="10.6" fill="#5f0d12"/>
<circle cx="79.8" cy="170.2" r="6.0" fill="#8a1b21"/>
<circle cx="81.2" cy="159.5" r="6.5" fill="#8a1b21"/>
<circle cx="89.0" cy="165.4" r="6.5" fill="#b03838"/>
<circle cx="83.3" cy="164.7" r="5.6" fill="#7e171c"/>
<circle cx="92.8" cy="165.6" r="2.9" fill="#7e171c"/>
<circle cx="83.3" cy="174.5" r="2.0" fill="#ab3033"/>
<circle cx="87.5" cy="174.6" r="2.7" fill="#ab3033"/>
<circle cx="92.8" cy="158.2" r="2.0" fill="#5f0d12"/>
<circle cx="92.9" cy="163.3" r="2.8" fill="#7a1419"/>
<circle cx="86.1" cy="153.4" r="2.0" fill="#ab3033"/>
<circle cx="72.1" cy="162.5" r="2.3" fill="#a2272c"/>
<circle cx="73.7" cy="161.3" r="2.1" fill="#8a1b21"/>
<circle cx="72.5" cy="166.6" r="2.3" fill="#8a1b21"/>
<circle cx="81.7" cy="159.8" r="3.1" fill="#7e171c"/>
<circle cx="85.5" cy="162.1" r="4.4" fill="#ab3033"/>
<circle cx="81.0" cy="158.2" r="3.4" fill="#ab3033"/>
<circle cx="78.8" cy="169.3" r="4.6" fill="#982026"/>
<circle cx="85.8" cy="170.2" r="4.0" fill="#982026"/>
<circle cx="80.9" cy="158.3" r="3.0" fill="#d05048"/>
<circle cx="83.7" cy="161.9" r="2.4" fill="#c9453f"/>
<circle cx="76.4" cy="166.3" r="2.6" fill="#d05048"/>
<circle cx="76.6" cy="165.2" r="2.3" fill="#c03d3a"/>
<circle cx="85.6" cy="173.3" r="1.9" fill="#7a1419"/>
<circle cx="87.0" cy="169.8" r="2.7" fill="#7a1419"/>
<circle cx="87.5" cy="168.8" r="2.0" fill="#7a1419"/>
<circle cx="80.6" cy="168.7" r="1.8" fill="#7a1419"/>
<circle cx="71.3" cy="144.5" r="6.2" fill="#6e1015"/>
<circle cx="66.0" cy="151.5" r="10.6" fill="#7a1419"/>
<circle cx="61.2" cy="155.5" r="5.7" fill="#b03838"/>
<circle cx="62.2" cy="144.0" r="6.0" fill="#7e171c"/>
<circle cx="70.8" cy="153.2" r="5.7" fill="#8a1b21"/>
<circle cx="65.2" cy="150.3" r="5.6" fill="#982026"/>
<circle cx="75.2" cy="150.7" r="2.8" fill="#5f0d12"/>
<circle cx="66.2" cy="140.6" r="2.4" fill="#7a1419"/>
<circle cx="56.7" cy="143.1" r="2.5" fill="#5f0d12"/>
<circle cx="72.1" cy="143.4" r="1.8" fill="#6e1015"/>
<circle cx="58.2" cy="143.2" r="2.5" fill="#982026"/>
<circle cx="56.6" cy="154.9" r="2.8" fill="#982026"/>
<circle cx="57.3" cy="158.8" r="2.7" fill="#7a1419"/>
<circle cx="62.3" cy="138.9" r="2.0" fill="#982026"/>
<circle cx="60.8" cy="159.9" r="2.5" fill="#982026"/>
<circle cx="58.0" cy="150.4" r="4.4" fill="#93222a"/>
<circle cx="68.0" cy="143.3" r="4.5" fill="#ab3033"/>
<circle cx="72.8" cy="153.7" r="3.9" fill="#b03838"/>
<circle cx="72.0" cy="149.4" r="3.6" fill="#982026"/>
<circle cx="71.1" cy="153.7" r="4.5" fill="#b03838"/>
<circle cx="63.0" cy="150.9" r="2.7" fill="#c9453f"/>
<circle cx="69.7" cy="143.6" r="2.1" fill="#c9453f"/>
<circle cx="62.8" cy="150.2" r="2.8" fill="#c9453f"/>
<circle cx="60.3" cy="145.0" r="3.0" fill="#d05048"/>
<circle cx="62.8" cy="157.3" r="2.7" fill="#5f0d12"/>
<circle cx="64.0" cy="154.5" r="2.3" fill="#7a1419"/>
<circle cx="69.7" cy="158.1" r="1.9" fill="#6e1015"/>
<circle cx="64.8" cy="152.6" r="1.6" fill="#5f0d12"/>
<circle cx="55.8" cy="128.0" r="6.5" fill="#5f0d12"/>
<circle cx="48.5" cy="132.8" r="11.2" fill="#5f0d12"/>
<circle cx="42.6" cy="135.3" r="6.7" fill="#a2272c"/>
<circle cx="50.0" cy="124.9" r="6.6" fill="#8a1b21"/>
<circle cx="53.4" cy="135.1" r="6.4" fill="#b03838"/>
<circle cx="47.7" cy="131.6" r="5.9" fill="#a2272c"/>
<circle cx="55.2" cy="141.2" r="2.3" fill="#8a1b21"/>
<circle cx="40.1" cy="123.5" r="2.3" fill="#6e1015"/>
<circle cx="59.1" cy="127.5" r="2.5" fill="#7e171c"/>
<circle cx="45.5" cy="143.1" r="2.6" fill="#5f0d12"/>
<circle cx="42.0" cy="141.7" r="3.0" fill="#8a1b21"/>
<circle cx="39.0" cy="125.2" r="2.4" fill="#ab3033"/>
<circle cx="39.3" cy="139.9" r="2.6" fill="#ab3033"/>
<circle cx="51.5" cy="121.5" r="1.9" fill="#7e171c"/>
<circle cx="46.5" cy="141.9" r="3.0" fill="#982026"/>
<circle cx="46.6" cy="136.1" r="4.7" fill="#7e171c"/>
<circle cx="54.4" cy="140.3" r="4.5" fill="#7e171c"/>
<circle cx="43.5" cy="121.9" r="3.6" fill="#982026"/>
<circle cx="40.7" cy="129.8" r="3.7" fill="#93222a"/>
<circle cx="47.7" cy="120.9" r="3.4" fill="#7e171c"/>
<circle cx="42.7" cy="132.4" r="2.9" fill="#d05048"/>
<circle cx="46.8" cy="129.4" r="2.4" fill="#c03d3a"/>
<circle cx="39.7" cy="132.3" r="3.0" fill="#c9453f"/>
<circle cx="43.1" cy="127.8" r="2.2" fill="#c03d3a"/>
<circle cx="52.6" cy="135.5" r="1.9" fill="#6e1015"/>
<circle cx="51.3" cy="132.8" r="2.6" fill="#7a1419"/>
<circle cx="48.8" cy="136.6" r="2.7" fill="#6e1015"/>
<circle cx="56.1" cy="135.8" r="2.3" fill="#6e1015"/>
<circle cx="46.9" cy="106.7" r="6.5" fill="#7a1419"/>
<circle cx="38.9" cy="108.7" r="11.2" fill="#5f0d12"/>
<circle cx="32.1" cy="108.1" r="6.3" fill="#982026"/>
<circle cx="40.4" cy="101.3" r="5.9" fill="#982026"/>
<circle cx="43.0" cy="112.6" r="6.5" fill="#7e171c"/>
<circle cx="38.1" cy="107.5" r="5.9" fill="#7e171c"/>
<circle cx="40.9" cy="119.6" r="2.2" fill="#a2272c"/>
<circle cx="49.5" cy="103.5" r="2.8" fill="#8a1b21"/>
<circle cx="37.8" cy="117.6" r="2.1" fill="#8a1b21"/>
<circle cx="30.8" cy="114.4" r="1.9" fill="#b03838"/>
<circle cx="45.8" cy="99.3" r="3.0" fill="#a2272c"/>
<circle cx="45.7" cy="98.6" r="3.0" fill="#a2272c"/>
<circle cx="37.6" cy="119.0" r="2.6" fill="#7a1419"/>
<circle cx="29.3" cy="114.4" r="2.1" fill="#ab3033"/>
<circle cx="48.7" cy="106.9" r="1.9" fill="#7e171c"/>
<circle cx="41.8" cy="106.0" r="4.0" fill="#982026"/>
<circle cx="40.1" cy="104.2" r="4.5" fill="#b03838"/>
<circle cx="37.5" cy="98.1" r="3.9" fill="#982026"/>
<circle cx="43.8" cy="114.8" r="4.8" fill="#b03838"/>
<circle cx="38.0" cy="99.4" r="3.8" fill="#b03838"/>
<circle cx="33.5" cy="107.7" r="2.2" fill="#c9453f"/>
<circle cx="34.0" cy="104.5" r="2.5" fill="#c9453f"/>
<circle cx="41.6" cy="99.6" r="2.5" fill="#c9453f"/>
<circle cx="38.5" cy="104.0" r="3.1" fill="#c9453f"/>
<circle cx="31.9" cy="114.0" r="2.9" fill="#6e1015"/>
<circle cx="34.8" cy="116.6" r="3.0" fill="#7a1419"/>
<circle cx="34.6" cy="113.7" r="2.3" fill="#7a1419"/>
<circle cx="41.3" cy="110.1" r="1.8" fill="#7a1419"/>
<circle cx="48.7" cy="83.8" r="6.2" fill="#6e1015"/>
<circle cx="41.3" cy="83.1" r="10.6" fill="#7a1419"/>
<circle cx="34.8" cy="81.3" r="6.4" fill="#7e171c"/>
<circle cx="45.5" cy="78.2" r="5.8" fill="#ab3033"/>
<circle cx="42.4" cy="87.3" r="5.9" fill="#93222a"/>
<circle cx="40.5" cy="81.9" r="5.6" fill="#8a1b21"/>
<circle cx="35.5" cy="90.4" r="2.3" fill="#b03838"/>
<circle cx="30.1" cy="84.8" r="2.0" fill="#7a1419"/>
<circle cx="51.6" cy="86.0" r="2.5" fill="#ab3033"/>
<circle cx="29.6" cy="77.6" r="1.9" fill="#ab3033"/>
<circle cx="50.9" cy="79.9" r="2.1" fill="#ab3033"/>
<circle cx="49.2" cy="77.4" r="2.1" fill="#8a1b21"/>
<circle cx="51.2" cy="85.9" r="2.1" fill="#982026"/>
<circle cx="30.4" cy="85.7" r="2.4" fill="#6e1015"/>
<circle cx="52.2" cy="82.0" r="2.4" fill="#8a1b21"/>
<circle cx="38.2" cy="84.7" r="3.6" fill="#8a1b21"/>
<circle cx="36.6" cy="80.0" r="3.1" fill="#93222a"/>
<circle cx="41.1" cy="86.5" r="3.9" fill="#93222a"/>
<circle cx="47.1" cy="85.9" r="3.7" fill="#8a1b21"/>
<circle cx="42.5" cy="85.7" r="4.1" fill="#b03838"/>
<circle cx="41.4" cy="75.8" r="2.1" fill="#c9453f"/>
<circle cx="39.7" cy="76.2" r="2.9" fill="#c9453f"/>
<circle cx="38.0" cy="78.0" r="2.2" fill="#c03d3a"/>
<circle cx="42.1" cy="76.5" r="1.8" fill="#d05048"/>
<circle cx="47.5" cy="83.0" r="1.9" fill="#5f0d12"/>
<circle cx="38.2" cy="86.2" r="1.8" fill="#7a1419"/>
<circle cx="42.3" cy="90.2" r="2.0" fill="#7a1419"/>
<circle cx="38.4" cy="83.7" r="2.0" fill="#6e1015"/>
<circle cx="53.9" cy="67.2" r="5.5" fill="#7a1419"/>
<circle cx="47.9" cy="65.0" r="9.6" fill="#5f0d12"/>
<circle cx="42.6" cy="60.3" r="5.9" fill="#8a1b21"/>
<circle cx="52.9" cy="61.4" r="5.5" fill="#7e171c"/>
<circle cx="48.8" cy="69.5" r="5.2" fill="#a2272c"/>
<circle cx="47.1" cy="63.8" r="5.0" fill="#982026"/>
<circle cx="48.6" cy="72.6" r="1.7" fill="#7e171c"/>
<circle cx="37.0" cy="60.1" r="1.6" fill="#ab3033"/>
<circle cx="46.4" cy="74.3" r="2.3" fill="#6e1015"/>
<circle cx="37.0" cy="62.3" r="1.7" fill="#a2272c"/>
<circle cx="45.3" cy="55.3" r="1.7" fill="#6e1015"/>
<circle cx="38.3" cy="58.5" r="1.7" fill="#a2272c"/>
<circle cx="39.8" cy="68.7" r="2.2" fill="#ab3033"/>
<circle cx="53.1" cy="71.7" r="2.4" fill="#8a1b21"/>
<circle cx="55.3" cy="61.0" r="2.3" fill="#93222a"/>
<circle cx="41.4" cy="59.8" r="2.6" fill="#982026"/>
<circle cx="48.0" cy="58.6" r="2.9" fill="#8a1b21"/>
<circle cx="45.3" cy="55.4" r="3.5" fill="#8a1b21"/>
<circle cx="50.5" cy="55.9" r="2.6" fill="#7e171c"/>
<circle cx="51.6" cy="69.7" r="3.1" fill="#93222a"/>
<circle cx="42.8" cy="59.8" r="2.1" fill="#c03d3a"/>
<circle cx="43.2" cy="63.1" r="1.9" fill="#c03d3a"/>
<circle cx="44.4" cy="64.5" r="2.8" fill="#d05048"/>
<circle cx="45.1" cy="57.2" r="2.7" fill="#c9453f"/>
<circle cx="53.3" cy="63.1" r="1.7" fill="#5f0d12"/>
<circle cx="47.6" cy="69.9" r="2.4" fill="#6e1015"/>
<circle cx="47.4" cy="67.4" r="2.0" fill="#7a1419"/>
<circle cx="49.2" cy="64.7" r="1.5" fill="#7a1419"/>
<circle cx="67.0" cy="55.7" r="6.2" fill="#5f0d12"/>
<circle cx="61.5" cy="51.4" r="10.6" fill="#6e1015"/>
<circle cx="55.2" cy="47.0" r="6.7" fill="#7e171c"/>
<circle cx="66.4" cy="49.5" r="6.3" fill="#a2272c"/>
<circle cx="59.7" cy="56.4" r="6.6" fill="#ab3033"/>
<circle cx="60.7" cy="50.2" r="5.6" fill="#7e171c"/>
<circle cx="58.3" cy="60.1" r="1.9" fill="#7a1419"/>
<circle cx="58.2" cy="60.6" r="2.6" fill="#ab3033"/>
<circle cx="54.8" cy="42.1" r="2.6" fill="#6e1015"/>
<circle cx="68.7" cy="43.7" r="2.3" fill="#7e171c"/>
<circle cx="70.9" cy="52.2" r="2.0" fill="#7a1419"/>
<circle cx="52.5" cy="57.6" r="1.8" fill="#b03838"/>
<circle cx="67.0" cy="60.4" r="2.2" fill="#b03838"/>
<circle cx="50.4" cy="50.8" r="2.9" fill="#7e171c"/>
<circle cx="69.7" cy="53.6" r="2.4" fill="#5f0d12"/>
<circle cx="65.2" cy="45.5" r="2.9" fill="#ab3033"/>
<circle cx="63.7" cy="45.1" r="4.3" fill="#7e171c"/>
<circle cx="62.3" cy="60.4" r="4.2" fill="#a2272c"/>
<circle cx="53.6" cy="54.3" r="3.1" fill="#a2272c"/>
<circle cx="53.6" cy="43.8" r="4.4" fill="#7e171c"/>
<circle cx="52.7" cy="50.8" r="3.0" fill="#d05048"/>
<circle cx="54.6" cy="47.9" r="2.6" fill="#c03d3a"/>
<circle cx="52.6" cy="50.2" r="1.8" fill="#c03d3a"/>
<circle cx="58.4" cy="45.1" r="3.1" fill="#c03d3a"/>
<circle cx="68.9" cy="51.9" r="1.9" fill="#5f0d12"/>
<circle cx="61.3" cy="55.2" r="2.2" fill="#7a1419"/>
<circle cx="64.7" cy="52.8" r="2.0" fill="#5f0d12"/>
<circle cx="62.0" cy="55.1" r="2.0" fill="#5f0d12"/>
<circle cx="94.6" cy="59.8" r="9.1" fill="#7a1419"/>
<circle cx="90.3" cy="62.7" r="5.6" fill="#ab3033"/>
<circle cx="92.8" cy="53.3" r="4.9" fill="#8a1b21"/>
<circle cx="99.5" cy="59.8" r="5.6" fill="#8a1b21"/>
<circle cx="93.8" cy="58.6" r="4.8" fill="#a2272c"/>
<circle cx="103.8" cy="56.9" r="2.5" fill="#982026"/>
<circle cx="102.8" cy="61.4" r="2.0" fill="#7a1419"/>
<circle cx="95.2" cy="49.4" r="2.5" fill="#7a1419"/>
<circle cx="98.3" cy="50.0" r="1.9" fill="#6e1015"/>
<circle cx="87.9" cy="66.0" r="1.9" fill="#982026"/>
<circle cx="89.7" cy="50.3" r="1.6" fill="#b03838"/>
<circle cx="84.2" cy="58.6" r="2.4" fill="#8a1b21"/>
<circle cx="101.3" cy="51.6" r="2.0" fill="#6e1015"/>
<circle cx="94.9" cy="48.6" r="2.1" fill="#7a1419"/>
<circle cx="93.8" cy="55.2" r="3.0" fill="#8a1b21"/>
<circle cx="101.8" cy="57.6" r="3.2" fill="#982026"/>
<circle cx="91.2" cy="54.7" r="3.0" fill="#7e171c"/>
<circle cx="98.0" cy="55.1" r="2.7" fill="#8a1b21"/>
<circle cx="95.5" cy="54.8" r="3.9" fill="#ab3033"/>
<circle cx="88.3" cy="57.8" r="2.2" fill="#d05048"/>
<circle cx="91.4" cy="53.7" r="2.4" fill="#c03d3a"/>
<circle cx="89.0" cy="54.4" r="1.9" fill="#c03d3a"/>
<circle cx="90.4" cy="52.3" r="2.0" fill="#c9453f"/>
<circle cx="94.9" cy="64.6" r="1.6" fill="#7a1419"/>
<circle cx="92.1" cy="63.8" r="2.3" fill="#5f0d12"/>
<circle cx="94.9" cy="61.3" r="1.6" fill="#5f0d12"/>
<circle cx="96.7" cy="59.0" r="2.2" fill="#6e1015"/>
<circle cx="118.8" cy="45.4" r="8.7" fill="#6e1015"/>
<circle cx="122.5" cy="46.5" r="5.3" fill="#7e171c"/>
<circle cx="113.1" cy="46.6" r="5.2" fill="#b03838"/>
<circle cx="119.1" cy="39.4" r="5.2" fill="#8a1b21"/>
<circle cx="118.0" cy="44.2" r="4.6" fill="#8a1b21"/>
<circle cx="122.0" cy="51.4" r="1.5" fill="#5f0d12"/>
<circle cx="125.5" cy="47.3" r="2.0" fill="#982026"/>
<circle cx="127.0" cy="47.4" r="2.0" fill="#982026"/>
<circle cx="109.5" cy="47.5" r="1.7" fill="#982026"/>
<circle cx="122.8" cy="51.7" r="1.6" fill="#982026"/>
<circle cx="125.6" cy="38.6" r="1.7" fill="#5f0d12"/>
<circle cx="117.8" cy="53.8" r="2.4" fill="#a2272c"/>
<circle cx="118.3" cy="52.7" r="2.1" fill="#ab3033"/>
<circle cx="110.6" cy="48.6" r="2.1" fill="#982026"/>
<circle cx="119.1" cy="40.2" r="2.5" fill="#8a1b21"/>
<circle cx="115.9" cy="46.1" r="3.6" fill="#ab3033"/>
<circle cx="114.8" cy="42.9" r="3.1" fill="#ab3033"/>
<circle cx="114.6" cy="49.8" r="3.8" fill="#ab3033"/>
<circle cx="120.2" cy="39.9" r="2.7" fill="#a2272c"/>
<circle cx="115.5" cy="41.4" r="1.9" fill="#d05048"/>
<circle cx="117.2" cy="40.6" r="1.6" fill="#c03d3a"/>
<circle cx="115.1" cy="44.1" r="2.1" fill="#c9453f"/>
<circle cx="115.9" cy="40.3" r="2.3" fill="#c9453f"/>
<circle cx="121.8" cy="45.1" r="2.1" fill="#7a1419"/>
<circle cx="118.3" cy="49.4" r="1.6" fill="#7a1419"/>
<circle cx="119.2" cy="47.1" r="1.8" fill="#6e1015"/>
<circle cx="112.5" cy="49.7" r="1.9" fill="#7a1419"/>
<circle cx="134.7" cy="67.1" r="9.1" fill="#5f0d12"/>
<circle cx="139.2" cy="65.6" r="5.3" fill="#a2272c"/>
<circle cx="130.9" cy="69.8" r="5.3" fill="#7e171c"/>
<circle cx="131.7" cy="60.7" r="5.5" fill="#982026"/>
<circle cx="133.9" cy="65.9" r="4.8" fill="#b03838"/>
<circle cx="132.2" cy="57.6" r="1.6" fill="#a2272c"/>
<circle cx="130.6" cy="56.6" r="1.8" fill="#ab3033"/>
<circle cx="129.5" cy="58.7" r="2.1" fill="#b03838"/>
<circle cx="137.3" cy="56.6" r="1.7" fill="#7e171c"/>
<circle cx="141.4" cy="70.5" r="2.3" fill="#93222a"/>
<circle cx="132.1" cy="74.7" r="2.4" fill="#8a1b21"/>
<circle cx="141.8" cy="62.6" r="1.9" fill="#b03838"/>
<circle cx="140.5" cy="60.9" r="2.2" fill="#6e1015"/>
<circle cx="134.0" cy="75.9" r="1.9" fill="#a2272c"/>
<circle cx="135.4" cy="69.2" r="3.9" fill="#b03838"/>
<circle cx="135.3" cy="72.9" r="3.1" fill="#7e171c"/>
<circle cx="136.1" cy="69.4" r="2.9" fill="#ab3033"/>
<circle cx="133.5" cy="59.6" r="3.4" fill="#a2272c"/>
<circle cx="130.0" cy="64.2" r="3.2" fill="#7e171c"/>
<circle cx="129.7" cy="64.5" r="2.3" fill="#d05048"/>
<circle cx="135.1" cy="63.6" r="2.4" fill="#c03d3a"/>
<circle cx="131.9" cy="65.0" r="2.5" fill="#c03d3a"/>
<circle cx="132.9" cy="58.4" r="2.3" fill="#c9453f"/>
<circle cx="132.7" cy="68.9" r="2.4" fill="#5f0d12"/>
<circle cx="131.0" cy="69.3" r="2.2" fill="#5f0d12"/>
<circle cx="134.3" cy="69.2" r="2.0" fill="#7a1419"/>
<circle cx="130.7" cy="69.1" r="2.4" fill="#5f0d12"/>
<circle cx="70.5" cy="79.1" r="9.1" fill="#5f0d12"/>
<circle cx="70.2" cy="72.4" r="5.2" fill="#982026"/>
<circle cx="74.0" cy="80.5" r="5.4" fill="#93222a"/>
<circle cx="65.1" cy="79.8" r="5.5" fill="#982026"/>
<circle cx="69.7" cy="77.9" r="4.8" fill="#b03838"/>
<circle cx="74.0" cy="69.6" r="1.7" fill="#8a1b21"/>
<circle cx="79.1" cy="76.1" r="2.1" fill="#ab3033"/>
<circle cx="78.0" cy="76.0" r="1.9" fill="#a2272c"/>
<circle cx="72.4" cy="86.4" r="1.7" fill="#6e1015"/>
<circle cx="65.6" cy="70.3" r="1.8" fill="#7a1419"/>
<circle cx="66.7" cy="70.0" r="2.2" fill="#7e171c"/>
<circle cx="76.2" cy="85.2" r="2.1" fill="#ab3033"/>
<circle cx="64.7" cy="86.6" r="2.1" fill="#8a1b21"/>
<circle cx="66.0" cy="70.3" r="2.5" fill="#93222a"/>
<circle cx="71.5" cy="74.8" r="2.9" fill="#8a1b21"/>
<circle cx="66.6" cy="78.2" r="3.9" fill="#8a1b21"/>
<circle cx="72.1" cy="84.8" r="3.1" fill="#982026"/>
<circle cx="72.7" cy="82.7" r="3.3" fill="#8a1b21"/>
<circle cx="71.4" cy="80.8" r="2.4" fill="#93222a"/>
<circle cx="65.9" cy="73.0" r="1.9" fill="#c03d3a"/>
<circle cx="68.6" cy="75.7" r="2.1" fill="#d05048"/>
<circle cx="65.8" cy="72.8" r="1.9" fill="#d05048"/>
<circle cx="72.1" cy="72.8" r="2.3" fill="#c03d3a"/>
<circle cx="69.7" cy="81.4" r="1.6" fill="#6e1015"/>
<circle cx="69.2" cy="79.9" r="1.8" fill="#6e1015"/>
<circle cx="72.3" cy="79.7" r="2.1" fill="#5f0d12"/>
<circle cx="76.3" cy="79.7" r="2.3" fill="#5f0d12"/>
<circle cx="101.3" cy="82.1" r="9.1" fill="#5f0d12"/>
<circle cx="98.6" cy="86.4" r="5.1" fill="#8a1b21"/>
<circle cx="96.5" cy="76.7" r="5.6" fill="#8a1b21"/>
<circle cx="105.2" cy="80.1" r="5.3" fill="#b03838"/>
<circle cx="100.5" cy="80.9" r="4.8" fill="#93222a"/>
<circle cx="109.5" cy="80.9" r="1.6" fill="#ab3033"/>
<circle cx="91.2" cy="81.3" r="1.7" fill="#7e171c"/>
<circle cx="92.8" cy="75.2" r="1.7" fill="#ab3033"/>
<circle cx="105.2" cy="88.8" r="2.5" fill="#a2272c"/>
<circle cx="110.4" cy="79.6" r="2.0" fill="#ab3033"/>
<circle cx="99.1" cy="72.9" r="2.3" fill="#7a1419"/>
<circle cx="92.6" cy="84.9" r="2.2" fill="#7a1419"/>
<circle cx="98.0" cy="71.1" r="1.6" fill="#982026"/>
<circle cx="95.4" cy="72.3" r="2.4" fill="#8a1b21"/>
<circle cx="98.4" cy="83.0" r="3.7" fill="#b03838"/>
<circle cx="98.1" cy="84.3" r="2.5" fill="#8a1b21"/>
<circle cx="94.9" cy="80.4" r="3.3" fill="#b03838"/>
<circle cx="106.4" cy="74.2" r="4.0" fill="#7e171c"/>
<circle cx="107.4" cy="84.8" r="3.6" fill="#8a1b21"/>
<circle cx="99.2" cy="77.5" r="2.2" fill="#d05048"/>
<circle cx="96.9" cy="76.5" r="1.9" fill="#d05048"/>
<circle cx="97.5" cy="76.2" r="2.5" fill="#c9453f"/>
<circle cx="99.7" cy="76.5" r="1.6" fill="#c03d3a"/>
<circle cx="101.5" cy="86.2" r="2.4" fill="#7a1419"/>
<circle cx="102.2" cy="86.1" r="1.8" fill="#6e1015"/>
<circle cx="107.8" cy="84.2" r="1.6" fill="#5f0d12"/>
<circle cx="107.7" cy="81.7" r="1.6" fill="#6e1015"/>
<circle cx="122.4" cy="95.7" r="8.7" fill="#6e1015"/>
<circle cx="116.5" cy="94.2" r="5.1" fill="#a2272c"/>
<circle cx="125.1" cy="90.6" r="5.2" fill="#7e171c"/>
<circle cx="123.2" cy="99.8" r="5.2" fill="#93222a"/>
<circle cx="121.6" cy="94.5" r="4.6" fill="#ab3033"/>
<circle cx="127.4" cy="101.1" r="1.9" fill="#a2272c"/>
<circle cx="114.7" cy="87.5" r="1.9" fill="#6e1015"/>
<circle cx="125.7" cy="87.0" r="1.6" fill="#ab3033"/>
<circle cx="112.9" cy="90.9" r="1.6" fill="#5f0d12"/>
<circle cx="129.3" cy="97.4" r="1.8" fill="#982026"/>
<circle cx="118.7" cy="85.2" r="1.9" fill="#a2272c"/>
<circle cx="119.3" cy="86.2" r="2.3" fill="#5f0d12"/>
<circle cx="129.7" cy="93.9" r="1.6" fill="#b03838"/>
<circle cx="126.2" cy="102.6" r="1.8" fill="#982026"/>
<circle cx="123.2" cy="91.4" r="2.9" fill="#b03838"/>
<circle cx="116.8" cy="93.8" r="3.0" fill="#93222a"/>
<circle cx="118.9" cy="92.5" r="3.1" fill="#93222a"/>
<circle cx="119.2" cy="92.7" r="3.7" fill="#a2272c"/>
<circle cx="121.5" cy="98.4" r="3.0" fill="#93222a"/>
<circle cx="124.0" cy="91.0" r="2.3" fill="#d05048"/>
<circle cx="115.4" cy="94.7" r="1.7" fill="#c03d3a"/>
<circle cx="124.5" cy="88.6" r="2.2" fill="#c9453f"/>
<circle cx="120.3" cy="91.6" r="2.6" fill="#d05048"/>
<circle cx="120.2" cy="95.8" r="1.7" fill="#6e1015"/>
<circle cx="123.6" cy="98.7" r="1.3" fill="#6e1015"/>
<circle cx="127.1" cy="94.5" r="2.0" fill="#5f0d12"/>
<circle cx="124.6" cy="98.0" r="1.5" fill="#7a1419"/>
<circle cx="89.2" cy="110.8" r="9.1" fill="#7a1419"/>
<circle cx="87.9" cy="115.0" r="5.1" fill="#7e171c"/>
<circle cx="82.8" cy="108.1" r="5.4" fill="#982026"/>
<circle cx="92.4" cy="105.5" r="5.5" fill="#8a1b21"/>
<circle cx="88.4" cy="109.6" r="4.8" fill="#7e171c"/>
<circle cx="78.4" cy="111.6" r="1.8" fill="#b03838"/>
<circle cx="80.6" cy="105.3" r="1.6" fill="#6e1015"/>
<circle cx="95.2" cy="102.9" r="2.1" fill="#8a1b21"/>
<circle cx="87.2" cy="118.3" r="2.0" fill="#7e171c"/>
<circle cx="82.6" cy="117.0" r="2.1" fill="#8a1b21"/>
<circle cx="96.6" cy="109.2" r="2.1" fill="#a2272c"/>
<circle cx="95.3" cy="102.5" r="2.1" fill="#a2272c"/>
<circle cx="82.7" cy="116.2" r="2.3" fill="#8a1b21"/>
<circle cx="84.7" cy="101.6" r="2.3" fill="#b03838"/>
<circle cx="81.6" cy="109.2" r="3.0" fill="#7e171c"/>
<circle cx="87.4" cy="104.7" r="3.5" fill="#b03838"/>
<circle cx="84.4" cy="117.7" r="3.2" fill="#8a1b21"/>
<circle cx="94.7" cy="104.7" r="4.0" fill="#a2272c"/>
<circle cx="90.3" cy="111.8" r="3.8" fill="#ab3033"/>
<circle cx="85.2" cy="106.9" r="2.4" fill="#c9453f"/>
<circle cx="87.3" cy="107.1" r="2.4" fill="#d05048"/>
<circle cx="88.1" cy="104.5" r="2.6" fill="#d05048"/>
<circle cx="85.4" cy="110.0" r="2.6" fill="#c03d3a"/>
<circle cx="93.7" cy="111.1" r="2.5" fill="#7a1419"/>
<circle cx="83.7" cy="113.6" r="2.2" fill="#6e1015"/>
<circle cx="86.5" cy="113.0" r="1.5" fill="#7a1419"/>
<circle cx="90.3" cy="116.0" r="2.1" fill="#6e1015"/>
<circle cx="113.3" cy="127.4" r="9.1" fill="#5f0d12"/>
<circle cx="117.8" cy="125.6" r="5.7" fill="#8a1b21"/>
<circle cx="108.4" cy="129.9" r="5.0" fill="#b03838"/>
<circle cx="109.7" cy="122.1" r="4.8" fill="#982026"/>
<circle cx="112.5" cy="126.2" r="4.8" fill="#93222a"/>
<circle cx="116.3" cy="117.5" r="2.2" fill="#982026"/>
<circle cx="116.1" cy="134.8" r="2.4" fill="#b03838"/>
<circle cx="120.2" cy="122.1" r="1.8" fill="#982026"/>
<circle cx="107.2" cy="118.9" r="2.2" fill="#b03838"/>
<circle cx="117.1" cy="135.1" r="2.3" fill="#a2272c"/>
<circle cx="106.3" cy="119.8" r="2.0" fill="#5f0d12"/>
<circle cx="104.3" cy="132.2" r="2.4" fill="#982026"/>
<circle cx="120.9" cy="121.9" r="2.5" fill="#982026"/>
<circle cx="104.1" cy="131.1" r="2.3" fill="#8a1b21"/>
<circle cx="115.7" cy="128.3" r="2.6" fill="#93222a"/>
<circle cx="115.3" cy="121.9" r="3.0" fill="#8a1b21"/>
<circle cx="106.2" cy="124.6" r="3.3" fill="#b03838"/>
<circle cx="118.9" cy="125.4" r="2.8" fill="#7e171c"/>
<circle cx="112.2" cy="133.5" r="3.6" fill="#93222a"/>
<circle cx="111.1" cy="120.7" r="2.2" fill="#c03d3a"/>
<circle cx="110.1" cy="123.6" r="2.1" fill="#d05048"/>
<circle cx="110.6" cy="126.1" r="2.1" fill="#c03d3a"/>
<circle cx="113.6" cy="118.7" r="1.7" fill="#c03d3a"/>
<circle cx="118.6" cy="128.9" r="1.4" fill="#6e1015"/>
<circle cx="112.7" cy="128.8" r="2.0" fill="#6e1015"/>
<circle cx="113.3" cy="129.1" r="2.4" fill="#7a1419"/>
<circle cx="110.8" cy="133.5" r="2.3" fill="#6e1015"/>
<circle cx="143.8" cy="122.8" r="9.1" fill="#5f0d12"/>
<circle cx="147.8" cy="123.2" r="5.7" fill="#ab3033"/>
<circle cx="139.8" cy="126.6" r="5.7" fill="#ab3033"/>
<circle cx="141.1" cy="116.8" r="5.7" fill="#982026"/>
<circle cx="143.0" cy="121.6" r="4.8" fill="#b03838"/>
<circle cx="142.1" cy="113.4" r="2.2" fill="#93222a"/>
<circle cx="138.9" cy="113.7" r="1.8" fill="#93222a"/>
<circle cx="134.4" cy="127.1" r="2.4" fill="#ab3033"/>
<circle cx="151.0" cy="123.2" r="2.2" fill="#ab3033"/>
<circle cx="144.0" cy="130.2" r="2.3" fill="#7e171c"/>
<circle cx="139.9" cy="131.5" r="1.7" fill="#5f0d12"/>
<circle cx="145.3" cy="112.7" r="2.4" fill="#7e171c"/>
<circle cx="151.1" cy="119.2" r="1.8" fill="#a2272c"/>
<circle cx="138.4" cy="129.7" r="2.4" fill="#8a1b21"/>
<circle cx="140.1" cy="127.7" r="4.0" fill="#a2272c"/>
<circle cx="135.6" cy="117.6" r="2.7" fill="#b03838"/>
<circle cx="138.0" cy="127.6" r="3.8" fill="#a2272c"/>
<circle cx="139.5" cy="123.1" r="3.9" fill="#b03838"/>
<circle cx="146.5" cy="122.2" r="4.0" fill="#982026"/>
<circle cx="139.3" cy="121.6" r="2.1" fill="#d05048"/>
<circle cx="140.1" cy="121.8" r="2.3" fill="#c9453f"/>
<circle cx="138.8" cy="117.9" r="2.3" fill="#d05048"/>
<circle cx="145.4" cy="114.5" r="1.6" fill="#c9453f"/>
<circle cx="148.5" cy="123.6" r="1.4" fill="#6e1015"/>
<circle cx="144.3" cy="124.7" r="1.8" fill="#6e1015"/>
<circle cx="142.5" cy="123.8" r="2.4" fill="#6e1015"/>
<circle cx="141.4" cy="123.8" r="1.9" fill="#6e1015"/>
<circle cx="95.2" cy="140.9" r="9.1" fill="#5f0d12"/>
<circle cx="89.9" cy="142.9" r="4.9" fill="#b03838"/>
<circle cx="95.0" cy="133.8" r="5.3" fill="#93222a"/>
<circle cx="99.3" cy="143.0" r="5.1" fill="#a2272c"/>
<circle cx="94.4" cy="139.7" r="4.8" fill="#93222a"/>
<circle cx="104.3" cy="137.7" r="2.2" fill="#7e171c"/>
<circle cx="92.1" cy="131.9" r="1.8" fill="#982026"/>
<circle cx="97.2" cy="147.5" r="2.3" fill="#b03838"/>
<circle cx="93.5" cy="148.5" r="1.6" fill="#6e1015"/>
<circle cx="85.4" cy="137.2" r="2.2" fill="#7e171c"/>
<circle cx="87.3" cy="145.0" r="1.9" fill="#8a1b21"/>
<circle cx="87.6" cy="145.6" r="1.9" fill="#8a1b21"/>
<circle cx="102.1" cy="134.0" r="1.8" fill="#7a1419"/>
<circle cx="102.2" cy="135.8" r="2.1" fill="#93222a"/>
<circle cx="102.5" cy="139.3" r="3.5" fill="#982026"/>
<circle cx="98.7" cy="133.2" r="3.9" fill="#982026"/>
<circle cx="89.2" cy="143.3" r="3.5" fill="#ab3033"/>
<circle cx="89.8" cy="138.3" r="4.0" fill="#982026"/>
<circle cx="87.6" cy="140.9" r="3.2" fill="#8a1b21"/>
<circle cx="91.5" cy="132.7" r="1.8" fill="#c03d3a"/>
<circle cx="95.2" cy="132.8" r="1.9" fill="#c9453f"/>
<circle cx="90.6" cy="136.6" r="2.2" fill="#c03d3a"/>
<circle cx="94.9" cy="137.4" r="2.5" fill="#c03d3a"/>
<circle cx="99.7" cy="142.0" r="1.6" fill="#7a1419"/>
<circle cx="92.3" cy="143.2" r="2.0" fill="#5f0d12"/>
<circle cx="97.0" cy="140.8" r="2.4" fill="#5f0d12"/>
<circle cx="96.7" cy="142.0" r="1.5" fill="#7a1419"/>
<circle cx="124.8" cy="150.3" r="8.2" fill="#6e1015"/>
<circle cx="120.9" cy="145.1" r="4.5" fill="#93222a"/>
<circle cx="128.9" cy="150.2" r="5.1" fill="#8a1b21"/>
<circle cx="121.5" cy="153.6" r="5.0" fill="#982026"/>
<circle cx="124.0" cy="149.1" r="4.3" fill="#ab3033"/>
<circle cx="128.4" cy="155.5" r="1.5" fill="#b03838"/>
<circle cx="119.6" cy="141.9" r="1.6" fill="#a2272c"/>
<circle cx="122.7" cy="156.9" r="1.8" fill="#a2272c"/>
<circle cx="116.1" cy="151.7" r="2.1" fill="#7a1419"/>
<circle cx="129.1" cy="156.1" r="1.7" fill="#7a1419"/>
<circle cx="119.4" cy="141.8" r="1.8" fill="#93222a"/>
<circle cx="123.8" cy="157.5" r="1.4" fill="#7e171c"/>
<circle cx="131.2" cy="151.8" r="2.0" fill="#7e171c"/>
<circle cx="130.8" cy="145.1" r="1.6" fill="#6e1015"/>
<circle cx="129.2" cy="152.4" r="3.4" fill="#a2272c"/>
<circle cx="129.5" cy="154.8" r="2.6" fill="#93222a"/>
<circle cx="122.0" cy="151.1" r="2.8" fill="#8a1b21"/>
<circle cx="130.6" cy="150.8" r="3.6" fill="#ab3033"/>
<circle cx="119.7" cy="143.3" r="2.7" fill="#ab3033"/>
<circle cx="124.6" cy="146.7" r="2.0" fill="#c03d3a"/>
<circle cx="123.1" cy="147.2" r="1.6" fill="#c9453f"/>
<circle cx="120.0" cy="149.5" r="1.8" fill="#d05048"/>
<circle cx="120.2" cy="143.9" r="2.2" fill="#c9453f"/>
<circle cx="128.8" cy="149.5" r="2.2" fill="#5f0d12"/>
<circle cx="122.0" cy="152.6" r="1.7" fill="#6e1015"/>
<circle cx="126.4" cy="152.8" r="1.7" fill="#6e1015"/>
<circle cx="123.7" cy="154.9" r="1.6" fill="#6e1015"/>
<circle cx="162.5" cy="81.5" r="9.1" fill="#5f0d12"/>
<circle cx="160.7" cy="85.5" r="5.2" fill="#982026"/>
<circle cx="157.8" cy="77.3" r="5.6" fill="#982026"/>
<circle cx="167.3" cy="78.9" r="5.0" fill="#ab3033"/>
<circle cx="161.7" cy="80.3" r="4.8" fill="#982026"/>
<circle cx="165.5" cy="72.7" r="1.9" fill="#982026"/>
<circle cx="152.3" cy="77.3" r="2.3" fill="#8a1b21"/>
<circle cx="171.6" cy="80.2" r="2.4" fill="#8a1b21"/>
<circle cx="158.0" cy="88.1" r="2.5" fill="#8a1b21"/>
<circle cx="170.4" cy="79.7" r="1.8" fill="#b03838"/>
<circle cx="154.5" cy="86.8" r="1.8" fill="#93222a"/>
<circle cx="152.6" cy="79.7" r="1.6" fill="#7e171c"/>
<circle cx="161.7" cy="89.3" r="2.0" fill="#7a1419"/>
<circle cx="161.3" cy="88.9" r="1.6" fill="#7a1419"/>
<circle cx="156.6" cy="73.2" r="3.5" fill="#b03838"/>
<circle cx="157.2" cy="77.8" r="3.7" fill="#a2272c"/>
<circle cx="154.6" cy="82.3" r="3.5" fill="#b03838"/>
<circle cx="159.2" cy="86.1" r="3.1" fill="#7e171c"/>
<circle cx="163.0" cy="77.6" r="2.8" fill="#ab3033"/>
<circle cx="156.2" cy="77.9" r="2.5" fill="#c03d3a"/>
<circle cx="160.2" cy="76.3" r="2.4" fill="#c9453f"/>
<circle cx="162.4" cy="78.2" r="2.0" fill="#c03d3a"/>
<circle cx="158.9" cy="80.4" r="2.5" fill="#c03d3a"/>
<circle cx="162.5" cy="82.2" r="2.2" fill="#5f0d12"/>
<circle cx="159.7" cy="85.0" r="2.1" fill="#5f0d12"/>
<circle cx="159.9" cy="87.0" r="2.0" fill="#6e1015"/>
<circle cx="169.2" cy="81.8" r="1.6" fill="#6e1015"/>
<circle cx="166.1" cy="104.8" r="8.7" fill="#7a1419"/>
<circle cx="169.4" cy="107.3" r="4.9" fill="#b03838"/>
<circle cx="160.1" cy="105.0" r="5.0" fill="#ab3033"/>
<circle cx="164.8" cy="99.0" r="5.2" fill="#982026"/>
<circle cx="165.3" cy="103.6" r="4.6" fill="#a2272c"/>
<circle cx="169.6" cy="96.4" r="1.7" fill="#5f0d12"/>
<circle cx="168.0" cy="94.7" r="2.1" fill="#7e171c"/>
<circle cx="172.4" cy="99.1" r="2.2" fill="#8a1b21"/>
<circle cx="173.9" cy="100.5" r="1.7" fill="#982026"/>
<circle cx="161.5" cy="110.7" r="1.7" fill="#7a1419"/>
<circle cx="162.5" cy="95.9" r="1.6" fill="#8a1b21"/>
<circle cx="157.0" cy="107.5" r="1.6" fill="#b03838"/>
<circle cx="172.2" cy="110.3" r="2.4" fill="#7a1419"/>
<circle cx="157.0" cy="102.2" r="1.8" fill="#6e1015"/>
<circle cx="171.5" cy="98.3" r="2.6" fill="#8a1b21"/>
<circle cx="169.4" cy="98.8" r="3.1" fill="#982026"/>
<circle cx="166.9" cy="108.8" r="3.5" fill="#93222a"/>
<circle cx="167.6" cy="100.2" r="3.7" fill="#982026"/>
<circle cx="162.3" cy="101.9" r="2.3" fill="#a2272c"/>
<circle cx="167.8" cy="98.8" r="1.5" fill="#d05048"/>
<circle cx="161.5" cy="101.2" r="1.8" fill="#d05048"/>
<circle cx="159.2" cy="102.7" r="1.8" fill="#c9453f"/>
<circle cx="165.0" cy="99.2" r="2.3" fill="#c9453f"/>
<circle cx="163.3" cy="108.6" r="1.8" fill="#6e1015"/>
<circle cx="170.5" cy="103.1" r="1.7" fill="#5f0d12"/>
<circle cx="170.5" cy="104.4" r="1.7" fill="#7a1419"/>
<circle cx="164.0" cy="109.6" r="1.7" fill="#5f0d12"/>
<circle cx="169.1" cy="127.4" r="8.2" fill="#6e1015"/>
<circle cx="165.0" cy="130.2" r="4.7" fill="#a2272c"/>
<circle cx="165.6" cy="122.6" r="4.5" fill="#a2272c"/>
<circle cx="173.2" cy="126.1" r="4.4" fill="#ab3033"/>
<circle cx="168.3" cy="126.2" r="4.3" fill="#a2272c"/>
<circle cx="172.6" cy="133.4" r="1.8" fill="#b03838"/>
<circle cx="175.8" cy="123.7" r="1.9" fill="#8a1b21"/>
<circle cx="175.7" cy="121.4" r="1.8" fill="#ab3033"/>
<circle cx="174.0" cy="121.5" r="2.2" fill="#6e1015"/>
<circle cx="170.5" cy="117.7" r="1.6" fill="#ab3033"/>
<circle cx="174.8" cy="130.2" r="2.1" fill="#982026"/>
<circle cx="160.7" cy="130.1" r="1.5" fill="#5f0d12"/>
<circle cx="174.1" cy="121.4" r="1.9" fill="#ab3033"/>
<circle cx="168.6" cy="135.0" r="1.8" fill="#982026"/>
<circle cx="169.6" cy="123.5" r="2.7" fill="#982026"/>
<circle cx="174.1" cy="127.7" r="3.2" fill="#93222a"/>
<circle cx="167.3" cy="129.0" r="3.3" fill="#7e171c"/>
<circle cx="170.6" cy="124.9" r="3.5" fill="#ab3033"/>
<circle cx="168.9" cy="123.5" r="3.3" fill="#a2272c"/>
<circle cx="168.1" cy="120.9" r="1.5" fill="#d05048"/>
<circle cx="168.4" cy="123.4" r="2.3" fill="#c03d3a"/>
<circle cx="162.4" cy="122.8" r="2.4" fill="#d05048"/>
<circle cx="163.9" cy="127.1" r="1.7" fill="#c9453f"/>
<circle cx="166.9" cy="131.3" r="1.4" fill="#5f0d12"/>
<circle cx="172.1" cy="125.9" r="1.6" fill="#5f0d12"/>
<circle cx="167.6" cy="129.8" r="1.4" fill="#7a1419"/>
<circle cx="168.0" cy="132.1" r="1.3" fill="#5f0d12"/>
<circle cx="142.0" cy="148.5" r="8.7" fill="#7a1419"/>
<circle cx="146.0" cy="144.7" r="5.3" fill="#7e171c"/>
<circle cx="142.4" cy="152.1" r="5.1" fill="#93222a"/>
<circle cx="136.3" cy="144.9" r="5.1" fill="#b03838"/>
<circle cx="141.2" cy="147.3" r="4.6" fill="#b03838"/>
<circle cx="148.5" cy="153.8" r="2.2" fill="#7e171c"/>
<circle cx="141.2" cy="137.7" r="1.7" fill="#5f0d12"/>
<circle cx="133.2" cy="149.4" r="1.9" fill="#982026"/>
<circle cx="133.8" cy="153.2" r="2.2" fill="#b03838"/>
<circle cx="145.1" cy="139.6" r="1.5" fill="#b03838"/>
<circle cx="136.2" cy="139.0" r="1.8" fill="#7e171c"/>
<circle cx="149.9" cy="147.5" r="1.5" fill="#a2272c"/>
<circle cx="147.5" cy="141.2" r="1.8" fill="#7e171c"/>
<circle cx="133.0" cy="149.5" r="1.7" fill="#b03838"/>
<circle cx="136.8" cy="150.7" r="2.3" fill="#8a1b21"/>
<circle cx="144.9" cy="149.5" r="3.4" fill="#ab3033"/>
<circle cx="136.2" cy="150.5" r="2.7" fill="#a2272c"/>
<circle cx="139.9" cy="144.5" r="3.6" fill="#a2272c"/>
<circle cx="137.5" cy="150.3" r="2.5" fill="#a2272c"/>
<circle cx="134.7" cy="145.6" r="2.1" fill="#d05048"/>
<circle cx="138.0" cy="145.7" r="2.4" fill="#c03d3a"/>
<circle cx="134.9" cy="146.2" r="1.6" fill="#c03d3a"/>
<circle cx="134.9" cy="149.1" r="1.6" fill="#c9453f"/>
<circle cx="144.5" cy="152.9" r="1.6" fill="#7a1419"/>
<circle cx="140.7" cy="154.9" r="2.1" fill="#5f0d12"/>
<circle cx="141.1" cy="149.9" r="2.1" fill="#7a1419"/>
<circle cx="141.1" cy="149.5" r="2.0" fill="#7a1419"/>
<circle cx="152.5" cy="46.9" r="8.2" fill="#7a1419"/>
<circle cx="156.4" cy="44.0" r="4.9" fill="#ab3033"/>
<circle cx="149.3" cy="50.3" r="4.4" fill="#b03838"/>
<circle cx="148.4" cy="42.4" r="5.2" fill="#982026"/>
<circle cx="151.7" cy="45.7" r="4.3" fill="#93222a"/>
<circle cx="157.5" cy="40.8" r="1.7" fill="#7e171c"/>
<circle cx="151.8" cy="36.6" r="2.0" fill="#6e1015"/>
<circle cx="159.5" cy="47.4" r="1.5" fill="#7e171c"/>
<circle cx="156.9" cy="52.4" r="1.9" fill="#982026"/>
<circle cx="159.4" cy="45.6" r="1.9" fill="#7e171c"/>
<circle cx="146.3" cy="40.1" r="2.1" fill="#982026"/>
<circle cx="143.5" cy="50.1" r="1.9" fill="#93222a"/>
<circle cx="142.4" cy="46.1" r="1.7" fill="#7e171c"/>
<circle cx="147.7" cy="53.7" r="1.8" fill="#982026"/>
<circle cx="152.9" cy="41.3" r="2.4" fill="#7e171c"/>
<circle cx="152.7" cy="42.9" r="2.6" fill="#7e171c"/>
<circle cx="153.8" cy="49.5" r="2.2" fill="#8a1b21"/>
<circle cx="158.6" cy="44.4" r="2.7" fill="#b03838"/>
<circle cx="153.4" cy="49.7" r="3.5" fill="#a2272c"/>
<circle cx="149.6" cy="39.5" r="1.8" fill="#c03d3a"/>
<circle cx="148.2" cy="44.4" r="1.8" fill="#d05048"/>
<circle cx="149.1" cy="44.7" r="2.3" fill="#d05048"/>
<circle cx="149.5" cy="42.6" r="1.5" fill="#d05048"/>
<circle cx="155.0" cy="45.4" r="1.8" fill="#5f0d12"/>
<circle cx="153.1" cy="51.0" r="2.0" fill="#7a1419"/>
<circle cx="155.5" cy="50.1" r="1.6" fill="#7a1419"/>
<circle cx="150.5" cy="47.8" r="1.7" fill="#6e1015"/>
<circle cx="66.0" cy="105.7" r="7.8" fill="#6e1015"/>
<circle cx="61.0" cy="103.2" r="4.6" fill="#8a1b21"/>
<circle cx="67.7" cy="100.9" r="4.1" fill="#7e171c"/>
<circle cx="67.5" cy="108.5" r="4.8" fill="#93222a"/>
<circle cx="65.2" cy="104.5" r="4.1" fill="#93222a"/>
<circle cx="63.1" cy="96.0" r="1.4" fill="#8a1b21"/>
<circle cx="73.2" cy="102.8" r="1.9" fill="#93222a"/>
<circle cx="58.3" cy="109.8" r="1.9" fill="#b03838"/>
<circle cx="58.8" cy="109.1" r="1.6" fill="#8a1b21"/>
<circle cx="63.5" cy="97.5" r="1.9" fill="#93222a"/>
<circle cx="61.0" cy="96.9" r="1.4" fill="#b03838"/>
<circle cx="61.6" cy="96.6" r="1.4" fill="#982026"/>
<circle cx="70.1" cy="97.9" r="1.8" fill="#93222a"/>
<circle cx="67.1" cy="112.5" r="1.9" fill="#8a1b21"/>
<circle cx="68.7" cy="109.3" r="3.1" fill="#7e171c"/>
<circle cx="68.0" cy="107.2" r="2.1" fill="#93222a"/>
<circle cx="69.3" cy="102.6" r="2.4" fill="#b03838"/>
<circle cx="63.5" cy="98.5" r="2.9" fill="#8a1b21"/>
<circle cx="63.7" cy="98.1" r="2.9" fill="#7e171c"/>
<circle cx="62.7" cy="103.5" r="1.5" fill="#c9453f"/>
<circle cx="61.5" cy="102.0" r="2.2" fill="#c9453f"/>
<circle cx="61.0" cy="101.6" r="1.4" fill="#d05048"/>
<circle cx="61.4" cy="103.6" r="2.1" fill="#d05048"/>
<circle cx="66.9" cy="105.5" r="1.6" fill="#5f0d12"/>
<circle cx="65.5" cy="106.2" r="1.7" fill="#7a1419"/>
<circle cx="68.0" cy="104.7" r="1.8" fill="#7a1419"/>
<circle cx="61.9" cy="107.4" r="1.4" fill="#5f0d12"/>
<circle cx="73.5" cy="132.8" r="7.8" fill="#6e1015"/>
<circle cx="70.8" cy="135.8" r="4.7" fill="#a2272c"/>
<circle cx="70.1" cy="128.5" r="4.5" fill="#ab3033"/>
<circle cx="77.4" cy="129.7" r="4.3" fill="#982026"/>
<circle cx="72.7" cy="131.6" r="4.1" fill="#7e171c"/>
<circle cx="78.6" cy="136.6" r="2.1" fill="#93222a"/>
<circle cx="74.0" cy="140.1" r="2.1" fill="#b03838"/>
<circle cx="80.1" cy="129.8" r="2.1" fill="#a2272c"/>
<circle cx="67.7" cy="125.3" r="1.7" fill="#5f0d12"/>
<circle cx="65.5" cy="133.7" r="1.5" fill="#93222a"/>
<circle cx="77.0" cy="138.8" r="1.4" fill="#7a1419"/>
<circle cx="81.1" cy="132.5" r="2.0" fill="#ab3033"/>
<circle cx="73.8" cy="124.3" r="1.9" fill="#7e171c"/>
<circle cx="72.6" cy="122.9" r="2.1" fill="#5f0d12"/>
<circle cx="72.2" cy="128.9" r="2.3" fill="#982026"/>
<circle cx="75.7" cy="126.6" r="3.1" fill="#7e171c"/>
<circle cx="72.4" cy="135.9" r="2.3" fill="#b03838"/>
<circle cx="71.0" cy="135.5" r="2.2" fill="#b03838"/>
<circle cx="74.7" cy="135.4" r="3.3" fill="#93222a"/>
<circle cx="72.2" cy="126.2" r="1.6" fill="#c9453f"/>
<circle cx="67.8" cy="128.2" r="1.8" fill="#c9453f"/>
<circle cx="74.9" cy="126.5" r="1.8" fill="#c9453f"/>
<circle cx="73.8" cy="127.5" r="1.6" fill="#d05048"/>
<circle cx="75.5" cy="132.6" r="1.2" fill="#6e1015"/>
<circle cx="71.7" cy="138.1" r="2.1" fill="#7a1419"/>
<circle cx="71.0" cy="136.8" r="1.3" fill="#7a1419"/>
<circle cx="74.4" cy="131.9" r="1.4" fill="#5f0d12"/>
<circle cx="177.5" cy="69.5" r="7.3" fill="#5f0d12"/>
<circle cx="174.3" cy="72.2" r="4.4" fill="#ab3033"/>
<circle cx="176.3" cy="64.3" r="4.3" fill="#982026"/>
<circle cx="180.4" cy="70.2" r="4.3" fill="#ab3033"/>
<circle cx="176.7" cy="68.3" r="3.8" fill="#ab3033"/>
<circle cx="177.7" cy="60.2" r="1.2" fill="#ab3033"/>
<circle cx="182.7" cy="64.3" r="1.3" fill="#5f0d12"/>
<circle cx="182.6" cy="62.6" r="1.6" fill="#5f0d12"/>
<circle cx="170.1" cy="64.4" r="1.8" fill="#6e1015"/>
<circle cx="177.3" cy="60.8" r="1.8" fill="#6e1015"/>
<circle cx="180.5" cy="75.0" r="1.9" fill="#ab3033"/>
<circle cx="175.2" cy="61.1" r="1.9" fill="#5f0d12"/>
<circle cx="181.8" cy="74.6" r="1.7" fill="#a2272c"/>
<circle cx="174.3" cy="60.7" r="1.9" fill="#982026"/>
<circle cx="171.9" cy="72.2" r="3.0" fill="#b03838"/>
<circle cx="176.3" cy="62.8" r="2.2" fill="#a2272c"/>
<circle cx="177.5" cy="65.9" r="2.0" fill="#a2272c"/>
<circle cx="183.3" cy="65.7" r="2.9" fill="#982026"/>
<circle cx="181.7" cy="66.0" r="3.1" fill="#8a1b21"/>
<circle cx="173.1" cy="69.1" r="1.7" fill="#c9453f"/>
<circle cx="176.9" cy="62.7" r="1.3" fill="#c9453f"/>
<circle cx="177.0" cy="66.0" r="1.7" fill="#c9453f"/>
<circle cx="173.3" cy="63.4" r="1.6" fill="#c9453f"/>
<circle cx="178.4" cy="68.3" r="1.7" fill="#6e1015"/>
<circle cx="178.6" cy="72.5" r="1.6" fill="#5f0d12"/>
<circle cx="178.5" cy="68.3" r="1.6" fill="#7a1419"/>
<circle cx="179.2" cy="72.5" r="1.6" fill="#6e1015"/>
<circle cx="114.2" cy="162.9" r="7.8" fill="#6e1015"/>
<circle cx="115.3" cy="166.3" r="4.3" fill="#b03838"/>
<circle cx="109.2" cy="160.8" r="4.4" fill="#982026"/>
<circle cx="116.1" cy="158.6" r="4.5" fill="#b03838"/>
<circle cx="113.4" cy="161.7" r="4.1" fill="#982026"/>
<circle cx="119.7" cy="165.6" r="2.0" fill="#a2272c"/>
<circle cx="119.7" cy="165.7" r="1.6" fill="#7e171c"/>
<circle cx="118.3" cy="168.2" r="2.1" fill="#ab3033"/>
<circle cx="120.5" cy="162.0" r="1.4" fill="#5f0d12"/>
<circle cx="115.2" cy="169.2" r="2.1" fill="#5f0d12"/>
<circle cx="106.9" cy="158.4" r="1.9" fill="#a2272c"/>
<circle cx="120.7" cy="157.3" r="1.9" fill="#982026"/>
<circle cx="110.0" cy="155.4" r="2.0" fill="#982026"/>
<circle cx="117.1" cy="169.6" r="1.7" fill="#8a1b21"/>
<circle cx="113.4" cy="165.8" r="2.5" fill="#8a1b21"/>
<circle cx="111.0" cy="164.0" r="2.3" fill="#b03838"/>
<circle cx="110.7" cy="157.6" r="2.9" fill="#93222a"/>
<circle cx="119.9" cy="161.5" r="2.4" fill="#a2272c"/>
<circle cx="118.7" cy="162.2" r="2.5" fill="#7e171c"/>
<circle cx="115.5" cy="155.9" r="1.6" fill="#c9453f"/>
<circle cx="115.3" cy="156.5" r="1.8" fill="#c9453f"/>
<circle cx="107.8" cy="163.0" r="1.7" fill="#d05048"/>
<circle cx="109.9" cy="159.3" r="2.3" fill="#c9453f"/>
<circle cx="115.2" cy="162.4" r="1.8" fill="#6e1015"/>
<circle cx="110.8" cy="164.4" r="2.0" fill="#5f0d12"/>
<circle cx="111.8" cy="166.4" r="1.8" fill="#6e1015"/>
<circle cx="118.8" cy="165.2" r="1.2" fill="#7a1419"/>
<circle cx="66.0" cy="57.4" r="7.3" fill="#7a1419"/>
<circle cx="65.3" cy="52.2" r="4.2" fill="#b03838"/>
<circle cx="69.9" cy="56.9" r="4.1" fill="#ab3033"/>
<circle cx="62.6" cy="59.3" r="3.9" fill="#b03838"/>
<circle cx="65.2" cy="56.2" r="3.8" fill="#93222a"/>
<circle cx="67.0" cy="63.0" r="2.0" fill="#5f0d12"/>
<circle cx="69.4" cy="61.4" r="1.3" fill="#93222a"/>
<circle cx="63.0" cy="62.5" r="1.3" fill="#982026"/>
<circle cx="71.2" cy="59.2" r="1.7" fill="#6e1015"/>
<circle cx="60.8" cy="50.3" r="1.9" fill="#6e1015"/>
<circle cx="68.1" cy="62.3" r="1.5" fill="#93222a"/>
<circle cx="63.0" cy="49.8" r="2.0" fill="#a2272c"/>
<circle cx="69.9" cy="50.6" r="1.5" fill="#ab3033"/>
<circle cx="73.1" cy="57.8" r="1.4" fill="#ab3033"/>
<circle cx="67.1" cy="50.9" r="2.3" fill="#982026"/>
<circle cx="66.7" cy="54.0" r="2.0" fill="#93222a"/>
<circle cx="62.4" cy="51.8" r="2.8" fill="#a2272c"/>
<circle cx="69.7" cy="57.6" r="3.0" fill="#982026"/>
<circle cx="61.1" cy="60.0" r="2.7" fill="#a2272c"/>
<circle cx="62.3" cy="56.7" r="1.5" fill="#c9453f"/>
<circle cx="66.6" cy="53.4" r="1.7" fill="#c9453f"/>
<circle cx="60.0" cy="56.1" r="1.5" fill="#d05048"/>
<circle cx="60.6" cy="55.8" r="2.0" fill="#c9453f"/>
<circle cx="68.1" cy="58.1" r="1.8" fill="#6e1015"/>
<circle cx="65.3" cy="62.2" r="1.8" fill="#7a1419"/>
<circle cx="70.6" cy="58.9" r="1.3" fill="#6e1015"/>
<circle cx="70.0" cy="55.9" r="1.8" fill="#6e1015"/>
<circle cx="153.4" cy="138.8" r="7.3" fill="#7a1419"/>
<circle cx="156.5" cy="138.2" r="4.2" fill="#b03838"/>
<circle cx="149.9" cy="140.8" r="4.2" fill="#a2272c"/>
<circle cx="152.0" cy="133.4" r="3.9" fill="#a2272c"/>
<circle cx="152.6" cy="137.6" r="3.8" fill="#982026"/>
<circle cx="151.9" cy="144.9" r="1.4" fill="#b03838"/>
<circle cx="146.3" cy="135.4" r="1.4" fill="#ab3033"/>
<circle cx="145.2" cy="134.5" r="2.0" fill="#93222a"/>
<circle cx="158.9" cy="142.8" r="1.6" fill="#ab3033"/>
<circle cx="145.2" cy="136.6" r="1.5" fill="#a2272c"/>
<circle cx="158.7" cy="141.1" r="1.9" fill="#6e1015"/>
<circle cx="154.1" cy="131.0" r="1.8" fill="#b03838"/>
<circle cx="158.3" cy="141.7" r="1.8" fill="#a2272c"/>
<circle cx="158.6" cy="143.3" r="1.6" fill="#8a1b21"/>
<circle cx="147.2" cy="137.3" r="3.0" fill="#982026"/>
<circle cx="149.1" cy="133.1" r="2.0" fill="#b03838"/>
<circle cx="153.1" cy="142.4" r="2.7" fill="#b03838"/>
<circle cx="149.8" cy="140.8" r="3.1" fill="#8a1b21"/>
<circle cx="152.2" cy="131.0" r="2.4" fill="#b03838"/>
<circle cx="150.1" cy="137.2" r="1.8" fill="#c03d3a"/>
<circle cx="150.1" cy="137.9" r="1.3" fill="#d05048"/>
<circle cx="155.5" cy="133.1" r="1.5" fill="#d05048"/>
<circle cx="150.2" cy="132.3" r="1.6" fill="#c03d3a"/>
<circle cx="155.8" cy="138.4" r="1.5" fill="#6e1015"/>
<circle cx="154.5" cy="141.2" r="1.9" fill="#7a1419"/>
<circle cx="152.5" cy="140.2" r="1.9" fill="#6e1015"/>
<circle cx="151.4" cy="139.9" r="2.0" fill="#7a1419"/>
</g>
</g>
</svg>
<!--VIRUS-END-->
  <div id="h2" class="abs"><span id="v1">התפשטות</span> <span id="v2">הקורונה</span> <span id="v3">בישראל</span></div>
  <div id="yl" class="abs"></div>

  <!-- cards -->
  <div class="abs" id="darkbg" style="left:313px;top:340px;width:627px;height:288px;"></div>
  <div class="abs" id="lightbg" style="left:2px;top:340px;width:311px;height:288px;"></div>
  <div class="abs" id="hgap" style="left:2px;top:484px;width:938px;height:2px;background:#fff;"></div>

  <div class="sep" style="left:313px;top:354px;height:116px;"></div>
  <div class="sep" style="left:626px;top:354px;height:116px;"></div>
  <div class="sep" style="left:313px;top:500px;height:115px;"></div>
  <div class="sep" style="left:626px;top:500px;height:115px;"></div>

  <div class="card" style="left:627px;top:340px;width:313px;height:144px;">
    <div class="lbl">מספר הנדבקים:</div>
    <div class="num">13,362</div>
    <div class="sub"><b>97</b> ביממה האחרונה</div>
  </div>
  <div class="card" style="left:315px;top:340px;width:311px;height:144px;">
    <div class="lbl">מספר המחלימים:</div>
    <div class="num">3,564</div>
    <div class="sub"><b>317</b> ביממה האחרונה</div>
  </div>
  <div class="card" style="left:2px;top:340px;width:311px;height:144px;">
    <div class="lbl">מספר המובטלים:</div>
    <div class="num w">1,093,465</div>
    <div class="sub" style="transform:scaleX(1.1);"><b class="dim" dir="ltr" style="unicode-bidi:embed;">+6,110</b></div>
  </div>
  <div class="card" style="left:627px;top:486px;width:313px;height:142px;">
    <div class="lbl">מתים:</div>
    <div class="num">172</div>
    <div class="sub"><b>8</b> ביממה האחרונה</div>
  </div>
  <div class="card" style="left:315px;top:486px;width:311px;height:142px;">
    <div class="lbl">מספר המונשמים:</div>
    <div class="num">109</div>
    <div class="sub" style="transform:scaleX(1.05);"><b>156 קשה, 140 בינוני</b></div>
  </div>
  <div class="card" style="left:2px;top:486px;width:311px;height:142px;">
    <div class="lbl">שיעור האבטלה:</div>
    <div class="num w">26.25%</div>
    <div class="sub"><b>3.6%</b> בתחילת מרץ</div>
  </div>

  <div id="lb" class="abs"></div>
  <div id="lb2" class="abs"></div>
  <div id="rb" class="abs"></div>
  <div id="bb" class="abs"></div>
</div>
</body>
</html>
